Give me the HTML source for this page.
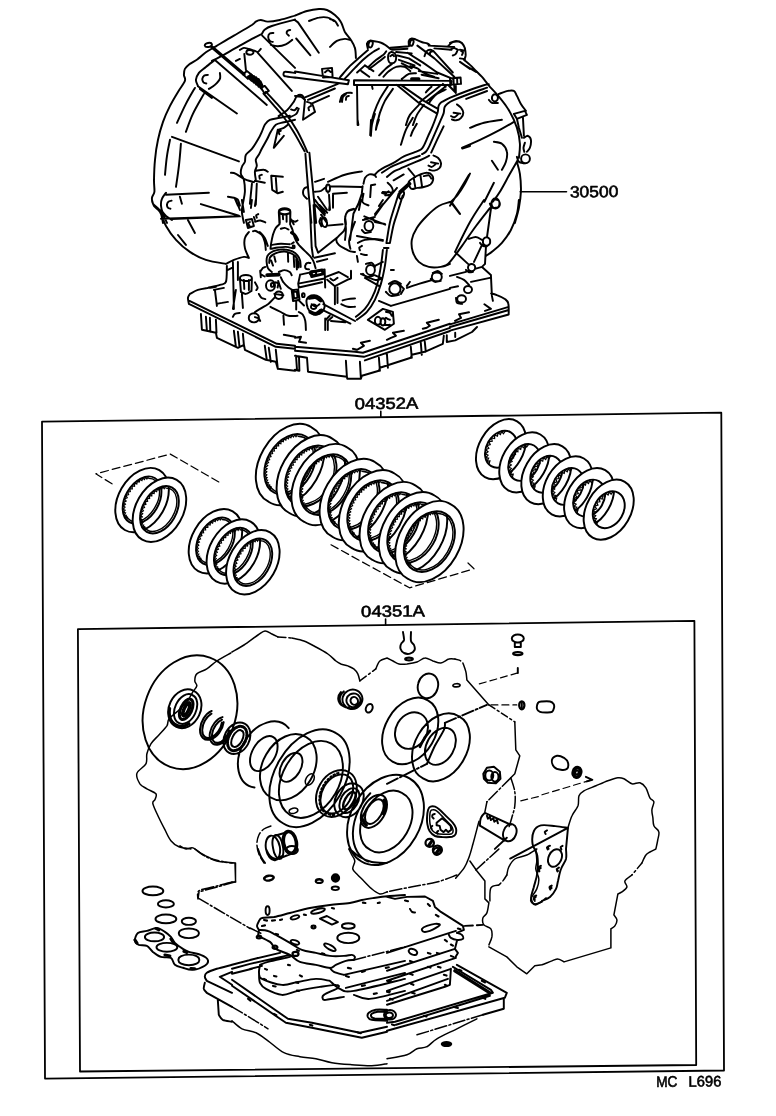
<!DOCTYPE html>
<html lang="en">
<head>
<meta charset="utf-8">
<title>Transaxle assembly and gasket kit diagram</title>
<style>
html,body{margin:0;padding:0;background:#fff;}
body{width:776px;height:1116px;overflow:hidden;font-family:"Liberation Sans",sans-serif;}
svg{display:block;position:absolute;left:0;top:0;will-change:transform;}
svg text{font-family:"Liberation Sans",sans-serif;fill:#000;stroke:#000;stroke-width:0.6px;text-rendering:geometricPrecision;}
</style>
</head>
<body>
<svg width="776" height="1116" viewBox="0 0 776 1116" fill="none" stroke="#000" stroke-linecap="round" stroke-linejoin="round">

<!-- frames -->
<path stroke-width="1.8" d="M42 421.7L721.3 412.7L724 1070.5L45 1078.6Z"/>
<path stroke-width="1.8" d="M77.9 629.2L694.4 620.8L696.2 1065L80 1071.5Z"/>
<!-- label ticks and leader -->
<path stroke-width="1.6" d="M380.8 411.2V417M385.6 619V625M520.2 191.7H566.5"/>
<path stroke-width="1.95" d="M295 15.6C292.5 16.3 284.3 19 279.8 20C275.3 21 271 21.6 267.8 21.6C264.7 21.6 262.8 20 260.8 20C258.8 20 257.3 20.7 255.8 21.6C254.4 22.4 255.5 22.6 251.9 25C248.2 27.3 239.9 32 233.9 35.6C227.9 39.1 220.6 43.5 215.9 46.3C211.2 49.1 208.9 50.2 205.9 52.3C202.9 54.4 200.6 57 197.9 58.9C195.3 60.9 192.1 62.3 189.9 63.9C187.8 65.6 185.9 67.1 184.9 68.9C183.9 70.7 183.9 72.9 183.9 74.9C183.9 76.9 185.9 78.1 184.9 80.9C183.9 83.7 180.4 87.7 178 91.9C175.5 96 172.5 100.9 170 105.9C167.5 110.9 165 116.2 163 121.8C161 127.5 159.3 133.5 158 139.8C156.6 146.1 155.6 153.1 155 159.8C154.3 166.5 154.1 174.4 154 179.8C153.9 185.1 154.7 188.8 154.4 191.8C154 194.7 152.2 195.7 152 197.7C151.8 199.7 151.7 201.6 153 203.7C154.3 205.9 158.3 207.5 160 210.7C161.6 213.9 162.5 220.9 163 222.9M211.9 60.9C213.2 60.3 215.9 59.1 219.9 56.9C223.9 54.8 230.5 50.9 235.9 47.9C241.2 44.9 247.5 41.3 251.9 38.9C256.2 36.6 260.2 34.8 261.8 34M261.8 34C262.3 33.2 263.2 30.9 264.8 29.6C266.5 28.2 266.8 27.6 271.8 26C276.9 24.3 291.1 20.6 295 19.6M262.2 35.6L295 67.9M273.4 33C272.8 33.1 270.7 32.9 269.8 33.6C269 34.2 268.2 35.7 268.2 37C268.2 38.2 269.1 40.1 269.8 40.9C270.6 41.8 272.3 41.8 272.8 41.9M290.2 30C289.7 30.1 288 30.4 287.4 31C286.8 31.6 286.6 32.8 286.8 33.6C287 34.3 288.5 35.2 288.8 35.6M270.8 44.9C272 45.2 275.3 46.4 277.8 46.3C280.3 46.2 283.4 45.4 285.8 44.3C288.2 43.3 291.1 40.7 292.2 39.9M239.9 49.9C240.5 49.6 242.4 48.1 243.9 47.9C245.4 47.8 247 48.4 248.9 48.9C250.7 49.4 253.4 50.4 254.9 50.9C256.3 51.4 256.8 52.3 257.8 51.9C258.8 51.6 260.3 49.4 260.8 48.9M253.5 52.3A3.6 2.4 0 1 1 246.3 52.3A3.6 2.4 0 1 1 253.5 52.3ZM244.3 53.9L245.9 69.9M257.8 52.9L291.8 90.9M235.9 60.9L239.9 58.9M211.9 44.3A3.6 2 -10 1 1 204.8 45.6A3.6 2 -10 1 1 211.9 44.3ZM214.9 59.9L266.8 104.9M242.9 74.3L246.9 70.9L251.9 74.9L247.9 78.9ZM260.8 87.9L264.8 85.9L268.8 90.9L264.8 93.5ZM214.9 59.9C213.4 61.1 208.6 64.7 205.9 66.9C203.3 69.1 200.6 70.7 198.9 72.9C197.3 75.1 196.1 77.7 195.9 79.9C195.8 82.1 197.6 84.9 197.9 85.9M207.9 74.9C207.3 75 205.2 74.8 204.3 75.5C203.4 76.2 202.5 77.8 202.3 78.9C202.2 80 202.9 81.5 203.5 82.3C204.2 83.1 205.8 83.3 206.3 83.5M219.9 72.9C219.9 73.9 220.7 76.9 219.9 78.9C219.1 80.9 216.7 83.2 214.9 84.9C213.1 86.6 209.9 88.2 208.9 88.9M197.9 86.3L236.9 113.5M199.9 88.9L211.9 97.9M194.9 87.9C193.4 90.5 188.9 98 185.9 103.9C182.9 109.7 178.5 119.7 177 122.8M203.9 93.9C202.1 97.2 195.9 107.5 192.9 113.9C189.9 120.2 187.1 128.8 185.9 131.8M172 136.8L238.9 161.4M170 139.8C169.5 142.5 167.8 150 167 155.8C166.1 161.6 165.3 171.6 165 174.8M180.9 143.8C180.6 147.5 179.8 158.6 178.9 165.8C178.1 172.9 176.5 183.3 176 186.8M166 192.7C165.3 193.7 162.8 196.6 162 198.7C161.1 200.9 160.8 203.2 161 205.7C161.1 208.2 162 210.9 163 213.7C164 216.6 166.3 221.4 167 222.9M171.6 200.7C171 200.9 169.1 201.1 168.4 201.7C167.6 202.4 167 203.7 167 204.7C166.9 205.7 167.4 207.1 168 207.7C168.5 208.4 170 208.6 170.4 208.7M166 194.7L208.9 192.7M179.9 196.7L181.9 203.7M200.9 204.1L238.9 215.7M161 218.7L238.9 216.1M289.8 115.8C288.1 116.2 283.1 117.2 279.8 117.8C276.5 118.5 272.3 118.7 269.8 119.8C267.3 121 266.2 122.8 264.8 124.8C263.5 126.8 263 129.3 261.8 131.8C260.7 134.3 259.5 137 257.8 139.8C256.2 142.6 253.9 146.3 251.9 148.8C249.9 151.3 247 152.6 245.9 154.8C244.7 157 245.5 159.8 244.9 161.8C244.2 163.8 242.5 164.8 241.9 166.8C241.2 168.8 240.5 171.6 240.9 173.8C241.2 175.9 243.2 176.8 243.9 179.8C244.5 182.8 245 187.8 244.9 191.8C244.7 195.7 243.4 200.4 242.9 203.7C242.4 207.1 241.7 208.5 241.9 211.7C242 214.9 243.5 221 243.9 222.9M295 119.8C293.1 120.2 287 121.4 283.8 122.2C280.6 123.1 278 123.2 275.8 124.8C273.7 126.4 272.3 129.3 270.8 131.8C269.3 134.3 268.3 137 266.8 139.8C265.3 142.6 263.2 146.3 261.8 148.8C260.5 151.3 259.8 153 258.8 154.8C257.8 156.6 256.2 158 255.8 159.8C255.5 161.6 257 163.8 256.8 165.8C256.7 167.8 255 169.4 254.9 171.8C254.7 174.1 255.7 178.4 255.8 179.8M277.8 129.8C278.8 129.5 282.1 128.7 283.8 127.8C285.5 127 287.1 125.3 287.8 124.8M277.8 129.8L273.8 147.8L283.8 135.8M280.8 130.8C280.5 131 279.1 131.3 278.8 131.8C278.6 132.4 279.3 133.8 279.4 134.2M255.8 170.8C257.2 170.6 261.8 169.6 263.8 169.8C265.8 169.9 267.2 171.4 267.8 171.8M261.8 174.8C261.4 174.9 259.8 175.1 259.4 175.8C259.1 176.4 259.8 178.3 259.8 178.8M254.9 180.8L264.8 182.8M251.9 183.8L249.9 203.7M256.8 183.8L255.8 204.7M230.9 172.8C231.7 172.9 233.7 172.8 235.9 173.8C238 174.8 240.9 177.4 243.9 178.8C246.9 180.2 252.2 181.6 253.9 182.2M227.9 196.7C228.9 196.9 232.2 197.2 233.9 197.7C235.5 198.2 236.9 198.4 237.9 199.7C238.9 201.1 239.5 204.7 239.9 205.7M234.9 198.7L237.9 205.7M271.8 175.8L282.8 176.8M271.2 175.8L272.2 189.8L277.8 193.3L282.8 191.8M275.8 177.8L276.8 191.8M290.4 211.7A5.6 2.4 0 1 1 279.2 211.7A5.6 2.4 0 1 1 290.4 211.7ZM279.4 212.1L279.8 222.9M290.2 212.1L290.2 222.9M258.2 214.1C257.9 214.3 256.5 214.7 256.2 215.3C256 215.9 256.7 217.3 256.8 217.7M266 91.8C267.8 93.8 273.4 99.7 276.9 103.6C280.4 107.5 283.6 110.8 287 115.3C290.4 119.8 294.2 125.7 297 130.4C299.8 135.2 302 140.2 303.7 143.8C305.4 147.4 306.8 150.7 307.4 152.1M263.5 93.5C265.2 95.5 270.2 101.3 273.6 105.2C277 109.1 280.2 112.5 283.6 117C287 121.5 290.9 127.5 293.7 132C296.5 136.5 298.6 140.6 300.4 143.8C302.2 147 303.9 150.1 304.6 151.3M278.6 116.1C280 115.1 284.4 112.6 287 110.3C289.5 107.9 292 104.3 293.7 101.9C295.3 99.5 295.6 97.1 297 96C298.4 94.9 300.8 94.6 302 95.2C303.3 95.7 304.1 98.7 304.6 99.4M288.6 117.8C289.9 117.2 294.5 115.5 296.2 113.9C297.9 112.4 298.3 109.5 298.7 108.6M291.1 109.4C291.7 109.6 293.5 110.5 294.5 110.3C295.5 110 296.6 108.2 297 107.7M295 15.6C297 14.8 303 12.1 307 11C311 9.9 315.6 9.2 319 9C322.3 8.8 324.3 9 327 10C329.6 11 332.6 13 334.9 15C337.3 17 339.3 19.1 340.9 22C342.6 24.8 343.3 29 344.9 32C346.6 35 349.3 37.3 350.9 39.9C352.6 42.6 354.1 44.9 354.9 47.9C355.8 50.9 355.8 56.3 355.9 57.9M309 21C310.6 20.4 315.8 18.1 319 17.6C322.1 17 325.5 17 328 17.6C330.5 18.1 333 20.4 333.9 21M330 19C330.8 19.3 333.6 19.9 334.9 21C336.3 22.1 337.4 24.8 337.9 25.6M296.2 38.5L310.4 55.3M294.4 19.8L298 22.4L318.8 52.7M330 46.9C331.1 45.9 334.4 42.3 336.9 40.9C339.4 39.6 342.8 39.1 344.9 38.9C347.1 38.8 349.1 39.8 349.9 39.9M295 71.5L322 75.9L348.9 80.3L347.9 84.3L295 77.5M322 68.9L332 67.9L332.6 76.9L323 77.5ZM325 72.3C325.5 72 327 70.4 328 70.3C328.9 70.2 330.1 71.6 330.6 71.9M337.9 83.9L305 97.3M334.9 88.5L308 99.9M329 95.9L311 103.9M295 95.9C296 96 299.3 96.2 301 96.9C302.7 97.5 304.3 99.4 305 99.9M305 99.9L303 119.8L315 111.9M307 101.9C307.8 102.2 310.8 102.7 312 103.9C313.1 105 313.5 107.5 314 108.9C314.5 110.2 314.8 111.4 315 111.9M311 105.9C310.6 106.1 308.9 106.7 308.6 107.5C308.2 108.2 308.9 109.8 309 110.3M339.9 101.9C340.3 100.9 340.8 97.4 341.9 95.9C343.1 94.4 345.3 93.4 346.9 92.9C348.6 92.4 351.1 92.9 351.9 92.9M348.9 95.9C348.5 96 347 96.2 346.5 96.9C346 97.5 346 99.4 345.9 99.9M305.4 153.8C305.7 158.1 306.7 171.8 307.4 179.8C308 187.8 308.7 194.5 309.4 201.7C310 208.9 311 219.4 311.4 222.9M309.4 152.8C309.8 157.3 311.2 171.6 312 179.8C312.8 187.9 313.5 194.5 314.2 201.7C314.9 208.9 315.8 219.4 316.2 222.9M374.9 113.9C374.4 115.7 372.6 121.2 371.9 124.8C371.2 128.5 371.1 134 370.9 135.8M378.9 119.8C378.6 120.8 377.4 124.2 376.9 125.8C376.4 127.5 376.1 129.2 375.9 129.8M412.8 117.8C411.7 119.8 407.9 125.3 405.9 129.8C403.9 134.3 401.7 142.3 400.9 144.8M416.8 123.8C416.2 125 413.8 128.8 412.8 130.8C411.8 132.8 411.2 135 410.8 135.8M328 181.8C330.8 180.6 339.3 176.5 344.9 174.8C350.6 173 359.1 171.9 361.9 171.4M330 186.2L361.9 187M327 184.8C326.8 185.4 325.8 187.4 326 188.8C326.1 190.1 327.6 192.1 328 192.7M333 193.7L346.9 192.7M315 181.8L324 178.8M330 188.2A2 3.6 0 1 1 326 188.2A2 3.6 0 1 1 330 188.2ZM329 194.7L330 209.7M333 194.7L333 207.7M315 199.7L325 213.7M318 196.7L327 209.7M308 186.8C307.3 187.1 304.8 187.4 304 188.8C303.2 190.1 302.9 193.1 303.4 194.7C303.9 196.4 306.4 198.1 307 198.7M315 191.8C316 191.6 319.3 191.4 321 190.8C322.6 190.1 324.3 188.3 325 187.8M321 214.7L327 222.9M295.3 73C293.6 72.8 287.2 71.6 285.2 71.7C283.3 71.8 283.6 73 283.6 73.7C283.5 74.5 282.9 75.6 284.9 76.2C286.9 76.9 293.6 77.5 295.3 77.7M354 80.3L451.5 80.9L451.1 84.9L354 84.9ZM357 84.9L357.6 125.1M340 77.3C341.7 75.4 346.7 69.3 350 65.9C353.3 62.6 357 59.6 360 57C363 54.3 366.6 51.1 368 50M345 78.5C346.7 76.8 351.8 71.2 355 67.9C358.1 64.7 361 61.6 364 59C367 56.3 370.5 53.7 373 52C375.5 50.2 378 49.1 378.9 48.6M396.9 84.9L418.9 102.9L435.9 112.9M400.9 84.9L423.9 100.9L437.9 108.9M439.9 85.9L419.9 101.9M444.9 86.9L425.9 101.9M419.9 103.9C418.2 105.7 412.2 111.4 409.9 114.9C407.6 118.4 406.6 123.4 405.9 125.1M423.9 104.9C422.7 106.6 418.7 111.5 416.9 114.9C415.1 118.2 413.6 123.4 412.9 125.1M387.9 85.9C386.6 88.1 382.3 94.4 379.9 98.9C377.6 103.4 375.5 108.5 374 112.9C372.5 117.2 371.5 123 371 125.1M392.9 88.9C391.6 90.9 387.1 96.9 384.9 100.9C382.8 104.9 381.3 108.9 379.9 112.9C378.6 116.9 377.5 123 377 125.1M447.9 84.9L455.8 92.9M455.8 84.9L455.8 92.9M346 93.9C345.5 94.4 343.7 95.6 343 96.9C342.3 98.2 342.2 101.1 342 101.9M372 85.9L372.6 88.9M367.8 48.4C367.6 47.6 366.7 44.8 367 43.5C367.4 42.2 368.8 41 369.9 40.6C370.9 40.2 372.8 41 373.4 41.1M372.5 44.7A2 2.8 15 1 1 368.7 43.7A2 2.8 15 1 1 372.5 44.7ZM373.4 41.1C374.6 41.3 378.4 41.7 380.5 42.5C382.6 43.2 384.5 44.5 386.2 45.6C387.8 46.7 389.7 48.5 390.4 49.1M357.1 72.5L364.9 65.4M361.4 71.1L369.2 76.8M364.9 65.4L373.4 71.1M368.5 66.9C369.8 65.7 373.8 61.8 376.3 59.8C378.7 57.8 381.7 56.2 383.4 54.8C385 53.4 385.7 51.9 386.2 51.3M369.2 69C370.6 67.9 375.1 64.6 377.7 62.6C380.3 60.6 383.6 57.9 384.8 56.9M388.3 54.8C388.7 53.2 390.1 52.2 391.1 52C392.2 51.7 393.9 52.6 394.7 53.4C395.5 54.2 396 55.6 396.1 56.9C396.2 58.2 396 60.1 395.4 61.2C394.8 62.2 393.6 63.2 392.6 63.3C391.5 63.4 389.7 63.3 389 61.9C388.3 60.5 388 56.5 388.3 54.8ZM390.4 56.2C390.8 56 392 54.8 392.6 54.8C393.2 54.8 393.7 56 394 56.2M379.1 75.4C380.3 74.2 384.1 70.2 386.2 68.3C388.3 66.4 390.9 64.7 391.9 64M383.4 76.8C384.3 75.8 386.9 72.8 389 71.1C391.1 69.5 393.5 67.6 396.1 66.9C398.7 66.1 402.3 66.1 404.6 66.9C407 67.6 409.3 70.4 410.3 71.1M401.8 63.3L411.7 68.3M390.4 47.7L408.9 46.3M391.9 49.8L407.4 48.7M396.1 52L411.7 53.4M408.9 45.6C408.9 44.8 408.4 41.8 408.9 40.6C409.3 39.5 410.6 38.7 411.7 38.5C412.8 38.3 414.7 39.1 415.2 39.2M413.3 43.2A1.7 2.6 15 1 1 410.1 42.3A1.7 2.6 15 1 1 413.3 43.2ZM415.2 39.2C416.3 39.7 419.6 41.3 421.6 42C423.6 42.8 425.9 42.9 427.3 43.5C428.7 44.1 429.7 45.2 430.1 45.6M424.5 56.2C424.8 55.4 425.6 52.3 426.6 51.3C427.5 50.2 428.9 49.8 430.1 49.8C431.3 49.8 433.1 51 433.7 51.3M432.3 51.3C431.9 51.5 430.5 51.8 430.1 52.4C429.8 53 430.1 54.4 430.1 54.8M407.4 52.7L423 62.6L437.2 72.5L452.8 78.9M417.4 45.6L434.4 58.4L454.2 76.8M433.7 51.3L452.8 72.5M428.7 45.6L454.2 47M434.4 48.4L451.4 49.8M397.5 55.5L408.9 58.4L420.2 65.4M398.9 59.8L414.5 65.4M410.3 66.1C411.5 66.5 415.2 67.2 417.4 68.3C419.5 69.3 420.2 71.1 423 72.5C425.9 73.9 432.5 76.1 434.4 76.8M418.8 71.1L437.2 73.9M421.6 74.7L438.6 78.2M401.8 78.9C403 78.1 406.5 74.9 408.9 73.9C411.2 73 414.8 73.4 416 73.2M448.6 45.6C449.3 45 451.2 42.7 452.8 42C454.5 41.4 456.8 41.3 458.5 41.6C460.1 42 461.6 43 462.7 44.2C463.8 45.3 464.6 47.7 465 48.4M459.9 49.8L465 50.6M452.8 55.5C453.3 55.3 454.9 54.8 455.6 54.1C456.4 53.4 456.8 51.7 457.1 51.3M459.9 58.4L465 59.1M450 78.2L460.6 77.5L461 83.9L450.3 84.6ZM453.5 78.2L453.7 84.3M457.1 77.9L457.3 84.1M454.2 84.6L454.5 91M431.5 86.7C431.1 87.1 429.7 88.3 428.7 89.3C427.8 90.2 426.3 91.9 425.9 92.4M445.7 89.5C444.3 90.2 439.6 92.1 437.2 93.8C434.9 95.4 433 97.8 431.5 99.5C430.1 101.1 429.2 103 428.7 103.7M442.9 83.9L445.7 86.7M448.6 85.3L454.2 91M450 42.9C451 42.6 454 40.9 456 40.9C458 40.9 460.5 41.6 462 42.9C463.5 44.3 464.4 46.8 465 48.9C465.6 51.1 465.7 54.1 465.6 55.9C465.4 57.8 464.2 59.3 464 59.9M464 59.9C465 60.8 468 63.1 470 64.9C472 66.7 474 68.9 476 70.9C478 72.9 480.3 75.1 482 76.9C483.6 78.7 484.6 80.2 486 81.9C487.3 83.6 489.3 86.1 489.9 86.9M450 49.9C450.7 49.6 452.7 47.9 454 47.9C455.3 47.9 457.3 49.6 458 49.9M461 50.9C461.3 51.2 462.8 51.7 463 52.3C463.1 53 462.2 54.5 462 54.9M460 61.9L470 68.9M466 65.9L476 71.9M497.9 97.9A3 3.6 0 1 1 491.9 97.9A3 3.6 0 1 1 497.9 97.9ZM488.9 99.9C489.4 100.4 490.4 102.4 491.9 102.9C493.4 103.4 496.9 102.9 497.9 102.9M498.9 93.9C500.4 93.4 505.4 91.4 507.9 90.9C510.4 90.4 512.4 90 513.9 90.9C515.4 91.7 515.7 93.7 516.9 95.9C518.1 98 519.4 101.4 520.9 103.9C522.4 106.4 525.1 109.7 525.9 110.9M513.9 113.9L524.9 110.9L526.9 114.9L516.9 118.8ZM516.9 118.8L518.9 127.8L521.9 137.8M522.9 116.8L523.9 135.8M489.9 86.9C491.6 88.7 496.6 93.7 499.9 97.9C503.3 102 507.1 106.9 509.9 111.9C512.8 116.8 515.2 122.5 516.9 127.8C518.6 133.2 519.6 138.8 519.9 143.8C520.2 148.8 519.1 155.5 518.9 157.8M523.9 137.8C524.6 137.5 526.7 135.5 527.9 135.8C529.1 136.2 530.6 137.8 530.9 139.8C531.2 141.8 530.6 145.8 529.9 147.8C529.2 149.8 527.4 151.1 526.9 151.8M524.9 142.8C524.7 143.6 523.6 146.3 523.5 147.8C523.4 149.3 524.2 151.1 524.3 151.8M529.9 158.8A4.4 4.4 0 1 1 521.1 158.8A4.4 4.4 0 1 1 529.9 158.8ZM516.9 156.8C517.2 157.6 517.7 160.7 518.9 161.8C520.1 162.9 523.1 163.1 523.9 163.4M516.9 161.8C517.4 163.8 519.2 168.8 519.9 173.8C520.6 178.8 521.1 186.1 520.9 191.8C520.7 197.4 519.9 202.5 518.9 207.7C517.9 212.9 515.6 220.4 514.9 222.9M470 127.8C472.3 127 478.6 124.2 484 122.8C489.3 121.5 498.9 120.3 501.9 119.8M462 147.8C465 146.5 473.6 142.8 480 139.8C486.3 136.8 494.3 132.8 499.9 129.8C505.6 126.8 511.6 123.2 513.9 121.8M493.9 141.8C495.3 142.1 499.8 142.1 501.9 143.8C504.1 145.5 506.3 148.8 506.9 151.8C507.6 154.8 506.8 158.8 505.9 161.8C505.1 164.8 502.6 168.4 501.9 169.8M491.9 160.8L497.9 169.8M517.9 159.8C516.6 162.1 512.9 168.4 509.9 173.8C506.9 179.1 502.8 187.1 499.9 191.8C497.1 196.4 494.1 200.1 492.9 201.7M469 174.8L460 189.8L450 205.7M493.9 182.8L484.4 201.7M452 202.7L460 213.7M499.5 203.3A4 5 0 1 1 491.5 203.3A4 5 0 1 1 499.5 203.3ZM489.9 203.7C490.3 204.4 490.8 207.1 491.9 207.7C493.1 208.4 496.1 207.7 496.9 207.7M152 200C152.3 201 152.7 204 154 206C155.3 208 158 208.7 160 212C162 215.3 163.3 221.3 166 226C168.6 230.6 172 235.6 176 239.9C179.9 244.3 184.9 248.6 189.9 251.9C194.9 255.3 199.9 257.9 205.9 259.9C211.9 261.9 222.6 263.3 225.9 263.9M161 210C161.8 211 164.1 214.3 166 216C167.8 217.6 171 219.3 172 220M172 219L239.9 216.4M187.9 220L194.9 233M178 235L185.9 244.9M225.9 263.9C227.2 263.3 230.9 261.1 233.9 259.9C236.9 258.8 241.4 257.3 243.9 256.9C246.4 256.6 248 257.8 248.9 257.9M248.9 257.9C248.2 256.3 245.5 251.3 244.9 247.9C244.2 244.6 244.2 240.6 244.9 238C245.5 235.3 248.2 233 248.9 232M245.9 220L251.9 219L253.9 226L247.9 228ZM249.9 222C249.6 222.2 248.3 223 248.3 223.6C248.2 224.2 249.3 225.2 249.5 225.6M253.9 217L254.9 220M235.9 200L239.9 210M241.9 200L243.9 212M251.9 200L250.9 208M255.8 200L254.9 206M283.8 334.8L295 336.8M189.9 293.9C189.6 294.5 188.1 296.2 187.9 297.9C187.8 299.5 188.8 302.9 188.9 303.9M188.9 303.9L275.8 346.8L295 348.8M189.9 293.9C191.3 293.2 194.9 290.9 197.9 289.9C200.9 288.9 204.9 288.4 207.9 287.9C210.9 287.4 214.6 287.1 215.9 286.9M189.5 300.9L276.8 343.8L295 345.8M207.9 287.9C209.9 287.4 216.9 285.9 219.9 284.9C222.9 283.9 224.7 285.1 225.9 281.9C227.1 278.7 226.7 268.6 226.9 265.9M213.9 289.9L223.9 287.9M232.9 261.9L233.9 308.9M237.9 261.9L237.9 279.9M227.9 269.9L231.9 267.9M251.9 277.9A6 3 0 1 1 239.9 277.9A6 3 0 1 1 251.9 277.9ZM239.9 278.3L240.9 291.9M251.9 278.3L251.5 290.9M243.9 279.9L244.3 288.9M248.9 279.9L248.9 289.9M240.9 291.9C241.7 292.2 244.1 294 245.9 293.9C247.6 293.7 250.5 291.4 251.5 290.9M214.9 289.9L216.9 305.9M216.9 303.9C217.7 303.7 220.1 303.2 221.9 302.9C223.7 302.5 226.9 302 227.9 301.9M235.9 289.9L232.9 308.9M241.9 293.9L242.9 307.9M239.9 312.9C239 313 236 313.2 234.9 313.9C233.7 314.5 233.2 316.3 232.9 316.8M258.8 317.8A5 4 0 1 1 248.9 317.8A5 4 0 1 1 258.8 317.8ZM200.9 313.9L201.9 329.8L215.9 332.8L216.9 337.8L235.9 346.8L237.9 347.8L243.9 344.8L244.9 349.8L265.8 359.8L275.8 361.8L277.8 368.8L295 370.8M205.9 316.8L206.9 330.8M209.9 317.8L210.3 331.8M215.9 319.8L216.5 332.8M233.9 330.8L235.9 346.8M237.9 331.8L239.5 346.8M242.9 333.8L243.9 344.8M264.8 345.8L266.8 359.8M268.8 347.8L270.8 361.8M275.8 349.8L277.8 368.8M360.9 200L358.9 210M386.9 249.9C386.5 252.6 385.9 260.3 384.9 265.9C383.9 271.6 382.6 278.2 380.9 283.9C379.2 289.6 377.2 295.2 374.9 299.9C372.6 304.5 369.9 308.5 366.9 311.9C363.9 315.2 358.6 318.5 356.9 319.8M382.9 249.9C382.6 252.6 381.8 260.3 380.9 265.9C380 271.6 378.8 278.6 377.3 283.9C375.8 289.2 374 293.7 371.9 297.9C369.8 302 367.6 305.7 364.9 308.9C362.2 312 357.4 315.5 355.9 316.8M383.9 247.9L388.5 247.9M390.9 269.9L393.9 269.9M373.3 226A4.4 5 0 1 1 364.5 226A4.4 5 0 1 1 373.3 226ZM364.9 219C366.1 218.8 370.2 217.5 371.9 218C373.6 218.5 374.4 221.3 374.9 222M362.9 220L374.9 217M374.9 222L384.9 224M361.9 230C362.4 230.5 363.4 232.6 364.9 233C366.4 233.3 369.9 232.1 370.9 232M374.9 214L382.9 204M382.9 200L378.9 206M382.9 239.9C381.6 239.8 377.9 238.9 374.9 238.9C371.9 238.9 367.7 239.3 364.9 239.9C362.1 240.6 359.1 242.4 357.9 242.9M361.9 245.9C361.5 246.2 359.6 246.8 359.3 247.5C359 248.3 359.8 249.9 359.9 250.3M356.9 236L382.9 240.9M356.9 255.9L357.9 261.9M360.9 253.9C361.4 254.1 362.9 254.6 363.9 254.7C364.9 254.9 366.4 254.9 366.9 254.9M374.9 269.9A4.4 5 0 1 1 366.1 269.9A4.4 5 0 1 1 374.9 269.9ZM365.9 263.9C366.9 263.8 370.4 262.4 371.9 262.9C373.4 263.4 374.4 266.2 374.9 266.9M362.9 273.9C363.6 274.4 365.2 276.6 366.9 276.9C368.6 277.2 371.9 276.1 372.9 275.9M374.9 265.9L382.9 261.9M373.9 274.9L380.9 277.9M364.9 277.9L378.9 285.9M360.9 273.9C363.2 274.9 371.6 279.1 374.9 279.9C378.2 280.7 379.9 279.1 380.9 278.9M450 202C448.1 202.7 442.7 203.7 438.8 206C435 208.3 430.5 212.3 426.8 216C423.2 219.6 419.3 224 416.8 228C414.3 232 412.5 236 411.8 239.9C411.2 243.9 411.7 248.3 412.8 251.9C414 255.6 416.2 259.4 418.8 261.9C421.5 264.4 425.2 266.1 428.8 266.9C432.5 267.7 437.3 267.4 440.8 266.9C444.3 266.4 448.5 264.4 450 263.9M441.8 276.9A5 4.4 0 1 1 431.8 276.9A5 4.4 0 1 1 441.8 276.9ZM432.8 272.9C433.7 272.6 436.3 270.7 437.8 270.9C439.3 271.1 441.1 273.4 441.8 273.9M430.8 278.9C431.5 279.4 433.2 281.6 434.8 281.9C436.5 282.2 439.8 281.1 440.8 280.9M400.5 288.9A5.6 5.6 0 1 1 389.3 288.9A5.6 5.6 0 1 1 400.5 288.9ZM388.9 283.9C389.9 283.4 392.9 280.9 394.9 280.9C396.9 280.9 399.9 283.4 400.9 283.9M385.9 291.9C386.7 292.5 388.7 295.4 390.9 295.9C393 296.4 397.5 295 398.9 294.9M399.9 284.9L403.9 288.9L400.9 293.9M406.9 285.9C407.1 285.6 408 284.6 408.5 283.9C409 283.2 409.6 282.2 409.9 281.9M406.9 287.9C408.9 287.2 414.5 285.2 418.8 283.9C423.2 282.6 430.5 280.6 432.8 279.9M390.9 305.9L450 288.9M378.9 300.9L390.9 305.9M367.9 319.8L382.9 308.9L392.9 311.9L393.9 323.8L384.9 329.8ZM380.9 320.8A3 4 0 1 1 374.9 320.8A3 4 0 1 1 380.9 320.8ZM385.3 321.8A2.4 3.6 0 1 1 380.5 321.8A2.4 3.6 0 1 1 385.3 321.8ZM385.9 311.9C386.5 312 388.9 312.2 389.9 312.9C390.9 313.5 391.5 315.4 391.9 315.8M385.9 317.8C386.2 318 387.2 318.7 387.9 319C388.5 319.4 389.5 319.7 389.9 319.8M384.9 324.8C385.3 324.9 386.4 325 387.3 325C388.1 325 389.4 324.9 389.9 324.8M295 337.8L301 336.8L299 341.8L306 342.8M369.9 340.8L360.9 342.8L363.9 345.8L356.9 349.8L352.9 348.8M403.9 330.8L392.9 332.8L395.9 335.8L390.9 337.8L386.9 339.8M438.8 319.8L426.8 322.8L429.8 325.8L426.8 327.8L422.8 328.8M295 346.8L354.9 351.8L362.9 352.8L450 323.8M295 350.8L354.9 355.8L363.9 356.8L450 327.8M364.9 360.4L450 331M295 355.8L307 357.8L308 371.8L346.9 376.8L347.3 378.8L360.9 378.8L361.9 375.8L378.9 370.8L379.9 367.8L410.8 357.8L411.8 354.8L424.8 351.8L442.8 343.8L443.8 335.8M345.9 360.8L346.9 376.8M359.9 361.8L360.9 378.8M378.9 357.8L379.9 370.8M386.9 353.8L387.9 367.8M410.8 346.8L411.8 357.8M420.8 342.8L421.8 354.8M424.8 341.8L425.8 351.8M296 355.8L297 369.8M299 356.8L299.4 370.8M295 369.8L299 370.8M290.4 211.4A5.8 3.1 0 1 1 278.8 211.4A5.8 3.1 0 1 1 290.4 211.4ZM278.8 212.1L279.5 224.3M290.4 212.1L290.1 224.3M282.7 214L283.1 219.2M286.6 214L286.6 221.8M279.5 224.3C278.8 225 276.7 226.5 275.6 228.2C274.5 229.9 273.8 232.1 273 234.6C272.3 237.2 271.5 241.3 271.1 243.7C270.7 246 270.6 248 270.5 248.8M290.1 224.3C290.4 225.2 291.8 227.8 292.4 229.5C293 231.2 293 232.7 293.7 234.6C294.3 236.6 295.4 239.4 296.2 241.1C297.1 242.8 298.4 244.3 298.8 244.9M280.8 228.8C281.4 228.7 283.4 227.8 284.6 227.9C285.9 228 287.9 229.2 288.5 229.5M292.4 220.5C292.8 220.7 294.1 221.8 294.9 221.8C295.8 221.8 297.1 220.7 297.5 220.5M291.1 219.2L293.7 224.3M271.1 248.8C272.3 248.6 275.7 247.8 278.2 247.5C280.7 247.2 283.6 246.8 285.9 246.9C288.3 247 291.3 248 292.4 248.2M271.8 244.9C273.3 244.7 277.8 243.8 280.8 243.7C283.8 243.6 288.3 244.2 289.8 244.3M271.8 272C271.1 271.4 268.7 269.9 267.9 268.1C267 266.4 266.7 263.6 266.6 261.7C266.5 259.8 266.6 258 267.2 256.5C267.9 255 268.9 253.8 270.5 252.7C272.1 251.6 274.5 250.6 276.9 250.1C279.3 249.6 282.1 249.2 284.6 249.5C287.2 249.7 290.2 250.4 292.4 251.4C294.5 252.4 296.2 253.8 297.5 255.3C298.8 256.8 299.6 258.5 300.1 260.4C300.6 262.3 300.6 265.8 300.7 266.9M269.2 263C269.3 262.1 269.2 259.2 269.8 257.8C270.5 256.4 271.6 255.5 273 254.6C274.4 253.7 276.3 252.9 278.2 252.4C280.1 251.9 282.5 251.5 284.6 251.6C286.8 251.8 289.3 252.5 291.1 253.3C292.9 254.1 294.4 255.2 295.6 256.5C296.8 257.9 297.7 259.9 298.2 261.7C298.7 263.5 298.5 266.5 298.6 267.5M274.3 256.5L275.6 261.7M287.9 253.3L288.2 261.7M293.7 256.5L294.3 266.9M271.1 260.4L273 265.6M296.2 259.1L296.9 269.4M298.8 244.9C299.9 246 303.3 249.5 305.3 251.4C307.2 253.3 309 254.8 310.4 256.5C311.8 258.3 312.8 259.8 313.6 261.7C314.5 263.6 315.2 267.1 315.6 268.1M291.7 243.7L293.7 242.4M294.7 246.9A1 1.3 0 1 1 292.6 246.9A1 1.3 0 1 1 294.7 246.9ZM310.4 263C309.9 263 308 262.6 307.2 263C306.3 263.4 305.5 264.6 305.3 265.6C305 266.5 305.3 268.1 305.9 268.8C306.5 269.4 308.6 269.3 309.1 269.4M316.2 273.3A3.2 2.1 0 1 1 309.8 273.3A3.2 2.1 0 1 1 316.2 273.3ZM309.8 205L311.7 247.5L313 256.5M313.6 205L315.6 246.2L318.1 252.7M318.1 252.7L337.5 237.2M314.3 257.8L334.9 253.3M316.9 261.7L327.2 259.1M326.9 221.9A2.6 4.4 -10 1 1 321.8 222.8A2.6 4.4 -10 1 1 326.9 221.9ZM320.7 217.9C320.5 218.5 319.3 220.4 319.4 221.8C319.5 223.1 321 225.5 321.4 226.3M327.2 225.6L342.6 224.3M315.6 205L324.6 215.3M319.4 205L327.2 212.7M329.7 205L329.1 210.2M355 208.9C353.8 209.3 349.4 210.2 347.8 211.4C346.2 212.7 345.5 214.5 345.2 216.6C344.9 218.7 346.1 222 345.9 224.3C345.6 226.7 345.1 228.8 343.9 230.8C342.7 232.7 340.1 234.4 338.8 235.9C337.5 237.4 336.2 238.3 336.2 239.8C336.2 241.3 337.3 243.4 338.8 244.9C340.3 246.5 343.3 247.7 345.2 248.8C347.1 249.9 348.7 250.9 350.4 251.4C352 251.9 354.2 251.9 355 252M355 221.8C354.4 223.3 352.6 227.6 351.6 230.8C350.7 234 349.3 238.1 349.1 241.1C348.9 244.1 350.1 247.5 350.4 248.8M300.1 274.6L324.6 269.4M300.1 274.6L298.2 283.6L324.6 278.5M298.2 283.6L298.8 287.5L322 282.3M324.6 269.4L325.2 287.5M325.2 277.2L338.8 272L347.8 277.2M334.9 286.2L347.8 279.7L351 278.5L351 270.7M334.9 286.2L334.9 304.2M337.5 287.5L337.5 302.9M330.4 278.5C330.9 278.8 332.4 280.5 333.6 280.4C334.8 280.3 336.8 278.2 337.5 277.8M327.2 279.7L334.9 286.2M342.6 300.4C343.5 300.1 345.7 299.4 347.8 299.1C349.8 298.8 353.8 298.5 355 298.4M341.3 304.2C342.4 304.7 345.5 306.4 347.8 306.8C350.1 307.2 353.8 306.8 355 306.8M275 285.5A4.5 5.2 0 1 1 266 285.5A4.5 5.2 0 1 1 275 285.5ZM273.9 284.9A1.5 1.9 0 1 1 270.9 284.9A1.5 1.9 0 1 1 273.9 284.9ZM275.6 282.3C276 282.5 277.9 282.7 278.2 283.6C278.5 284.5 277.7 286.8 277.6 287.5M282.7 295.2A3.9 3.2 0 1 1 275 295.2A3.9 3.2 0 1 1 282.7 295.2ZM274.3 293.9L283.4 295.2M278.8 272C279.8 271.7 282.8 270.1 284.6 270.1C286.5 270.1 288.6 271.2 289.8 272C291 272.9 291.4 274.7 291.7 275.2M280.8 277.2C281.2 278 282.1 280.6 283.4 282.3C284.6 284 286.8 286.1 288.5 287.5C290.2 288.9 292.8 290.2 293.7 290.7M278.2 281L280.8 288.8M291.7 290.1L298.2 289.4L299.5 299.7L293 301ZM293.4 292L296.9 291.6L297.5 297.8L294 298.4ZM304.6 295.2A1.3 1.9 0 1 1 302 295.2A1.3 1.9 0 1 1 304.6 295.2ZM296.2 301L296.2 309.4M298.8 300.4L304 305.5M306.5 300.4C306.8 298.4 307.8 297.4 309.1 296.5C310.4 295.6 312.6 295.1 314.3 295.2C316 295.3 317.9 296.1 319.4 297.1C320.9 298.2 322.4 300 323.3 301.6C324.2 303.3 324.8 305.1 324.6 306.8C324.4 308.5 323.3 310.7 322 312C320.7 313.2 318.6 314.3 316.9 314.5C315.1 314.8 313.2 314.3 311.7 313.2C310.2 312.2 308.7 310.2 307.8 308.1C307 305.9 306.3 302.3 306.5 300.4ZM311.7 304.2C312.3 304.7 314.3 306.8 315.6 306.8C316.9 306.8 318.8 304.7 319.4 304.2M316.2 306.8A2.6 1.9 0 1 1 311.1 306.8A2.6 1.9 0 1 1 316.2 306.8ZM323.3 304.2L355 321M321.4 309.4L350.4 323.6M325.2 318.4L325.2 330M329.7 315.8L325.9 319.7M332.3 317.1L327.8 321L327.8 330M255 312C256.1 311.3 259.3 309.4 261.4 308.1C263.6 306.8 265.7 305.9 267.9 304.2C270 302.5 273.3 298.9 274.3 297.8M270.5 306.8C272.2 307.7 277.8 310.5 280.8 312C283.8 313.5 285.7 315.2 288.5 315.8C291.3 316.5 296 315.8 297.5 315.8M283.4 315.8L284 324.8M298.8 312C299.5 312.4 301.6 313 302.7 314.5C303.8 316 304.7 318.4 305.3 321C305.8 323.6 305.8 328.5 305.9 330M331 321L345.2 322.3M260.2 270.7L260.8 277.2M260.2 272C260.6 271.4 261.9 269 262.7 268.1C263.6 267.3 264.9 267.1 265.3 266.9M261.4 274.6L264.7 276.5M255 282.3C255.4 283.2 257.4 286.2 257.6 287.5C257.8 288.8 256.5 289.6 256.3 290.1M258.9 293.9C259.3 294.6 260.4 296.9 261.4 297.8C262.5 298.6 264.7 298.9 265.3 299.1M255 221.8C255.9 221.5 258.4 220.4 260.2 220.5C261.9 220.6 264.5 222.1 265.3 222.4M255 317.1L258.9 318.4L260.2 321M253 231.2C253.5 231.2 254.4 230.4 255.9 231C257.4 231.6 260.3 233.2 261.8 235C263.3 236.8 264.1 239.4 264.8 241.9C265.5 244.4 265.6 248.6 265.8 249.9M259.8 232C260.6 233 263.5 235.7 264.8 238C266.1 240.3 267.3 244.6 267.8 245.9M518.9 200C518.6 202.3 518.2 209 516.9 214C515.6 219 513.4 225.1 510.9 230C508.4 234.8 504.9 239.4 501.9 242.9C498.9 246.4 495.6 248.8 492.9 250.9C490.3 253.1 487.1 255.1 486 255.9M499.9 204A4.4 4.4 0 1 1 491.1 204A4.4 4.4 0 1 1 499.9 204ZM452 203L460 214M489.9 208C487.6 211 480.6 219.6 476 226C471.3 232.3 466.3 239.9 462 245.9C457.7 251.9 452.8 258.6 450 261.9C447.2 265.2 445.8 265.2 445 265.9M484 200C481.6 203.7 474.8 213.3 470 222C465.1 230.6 457.5 246.9 455 251.9M490.9 209L487 237M490.1 241.5A3.6 3.6 0 1 1 483 241.5A3.6 3.6 0 1 1 490.1 241.5ZM480 242.9C480.5 243.4 481.8 245.4 483 245.9C484.1 246.5 486.3 246.3 487 246.3M469 238.9C470.1 238.6 473.8 236.8 476 237C478.1 237.1 481 239.4 482 239.9M482 244.9L474 261.9M455 251.9L468 263.9M486 245.9L485 263.9M475.2 267.5A3.6 3.6 0 1 1 468 267.5A3.6 3.6 0 1 1 475.2 267.5ZM466 269.9C466.5 270.3 467.8 272 469 272.3C470.1 272.6 472.3 272 473 271.9M485 263.9L482 266.9L475 268.9M482 266.9L490.9 274.9L491.9 295.9L492.9 300.9M450 275.9L466 271.9M471 281.9L489.9 277.9M457 276.9C458.2 277.4 462 278.6 464 279.9C466 281.2 468.1 284.1 469 284.9M472 289.5A4 3.6 0 1 1 464 289.5A4 3.6 0 1 1 472 289.5ZM466 298.9A4.4 3.6 0 1 1 457.2 298.9A4.4 3.6 0 1 1 466 298.9ZM456 297.9C456.2 298.7 456 301.9 457 302.9C458 303.9 461.2 303.7 462 303.9M450 287.9L458 286.3M491.1 293.5C492.1 293.7 494.6 294.1 496.9 295.1C499.3 296 503.4 297.9 505.3 299.3C507.2 300.7 507.8 301.1 508.3 303.5C508.9 305.9 508.7 312 508.7 313.7M508.7 306.9L450 324.4M507.9 310.3L450 327M508.7 314.5L450 330.6M446.8 335.2L446.8 342L455.2 340.4L472 332L477 327M484.4 304.3L490.9 308.9L485 310.9M469 312.3L459 314.3L461 317.8L455 320.8M455.2 332.8L455.2 337M466.2 98.9L487.1 91M457 104.4C457.7 105 460.1 106.4 461.1 107.8C462.2 109.2 463.3 111.1 463.3 112.8C463.3 114.5 462.3 116.6 461.1 117.8C459.9 119.1 457.7 120.1 456.1 120.3C454.6 120.6 452.6 119.6 451.9 119.5M451.1 116.1C451.7 116.3 453.3 117.6 454.4 117.3C455.6 117 457.2 114.9 457.8 114.5M453.6 112.8L460.3 113.6M433.5 155.5C434.3 155.9 436.9 156.8 438.2 158C439.5 159.3 440.8 161.4 441 163.1C441.2 164.7 440.5 166.8 439.4 168.1C438.3 169.3 436 170.3 434.3 170.6C432.7 170.9 430.2 169.9 429.3 169.8M428.5 165.6C429 165.8 430.7 167.1 431.8 166.9C433 166.7 434.9 164.7 435.5 164.2M431 162.2L438.2 163.6M488.8 84.3C488 84.5 487.4 84.1 483.8 85.2C480.2 86.3 472.6 88.9 467 91C461.4 93.1 454.2 96 450.3 97.7C446.4 99.4 445.2 100.2 443.6 101.1C442 102 441.4 102.2 440.5 103C439.6 103.8 438.9 104.8 438.5 106.2C438.1 107.6 438.3 109.4 437.9 111.3C437.5 113.2 436.8 114.9 435.9 117.5C435 120.1 433.6 123.7 432.3 126.8C431 129.9 429.5 133 428.1 136.1C426.7 139.2 425.2 143.2 424 145.4C422.8 147.6 422.6 148.3 420.9 149.5C419.2 150.7 416.6 151.4 413.7 152.6C410.8 153.8 406.5 155.1 403.4 156.7C400.3 158.2 398.3 160.2 395.3 161.9C392.3 163.6 388 165.4 385.2 166.9C382.4 168.4 380.3 169.7 378.5 171.1C376.7 172.5 375 174.6 374.3 175.3M487.1 87.7C484.3 88.7 476 91.4 470.4 93.5C464.8 95.6 457.4 98.5 453.6 100.2C449.8 101.9 449.2 102.4 447.7 103.6C446.2 104.8 445.3 105.6 444.6 107.2C443.9 108.8 444.3 111.2 443.6 113.4C442.9 115.6 441.6 118 440.5 120.6C439.4 123.2 438.1 126.2 436.9 128.9C435.7 131.7 434.6 134.2 433.3 137.1C432 140 430.4 144 429.2 146.4C428 148.8 427.3 150.2 426.1 151.5C424.9 152.8 422.7 153.7 422 154.1M419.9 155.7C418.3 156.2 413.9 157.6 410.6 158.8C407.3 160 403.7 161.5 400.3 162.9C396.9 164.3 393.1 165.8 390 167.5C386.9 169.2 383.2 171.9 381.9 172.8M443.6 126.3L437.4 139.2L431.2 152.6M429.2 155.7C428.2 156.2 425.2 157.8 423 158.8C420.8 159.8 418.2 160.9 415.8 161.9C413.4 162.9 411.2 163.8 408.6 164.9C406 166 402.8 167.5 400.3 168.6C397.8 169.7 395.8 170.2 393.6 171.6C391.4 173 388 176.1 386.9 177M462.2 148.5L470 145.4M393.6 180.3L403.7 174.4M363.5 183.7C363.7 182.7 364.2 179.3 365.1 177.8C366.1 176.3 367.8 174.9 369.3 174.4C370.9 174 373.2 174.5 374.3 175C375.5 175.4 375.7 176.6 376 177M362.6 186.2L361.8 193.7L358.4 203.8L353.4 213.8L351.7 227.2L350.1 240M345 240C345.2 238.1 345.9 232.4 345.9 228.9C345.9 225.4 344.7 221.8 345 218.8C345.3 215.9 346.1 213 347.5 211.3C348.9 209.6 352.4 209.2 353.4 208.8M363.5 193.7C363.3 195.1 361.8 200.1 362.6 202.1C363.5 204 367.5 204.9 368.5 205.4M375.2 184.5L371 185.3L370.2 197.1M387.7 182.8C388.3 183.4 390.3 184.9 391.1 186.2C391.9 187.4 392.9 189 392.8 190.4C392.6 191.8 391.5 193.7 390.3 194.6C389 195.4 386.1 195.2 385.2 195.4M381.9 192.9C382.4 193 384.1 194 385.2 193.7C386.4 193.4 388 191.6 388.6 191.2M382.7 192L390.3 192.4M397 187.9L383.6 203.8L375.2 215.5M398.6 193.7C397.9 196.2 395.4 203.9 393.9 208.8C392.5 213.7 391 217.3 389.8 223C388.5 228.8 387 239.8 386.4 243.1M402.8 195.4C402 197.9 399.7 205.6 398.1 210.5C396.6 215.4 395 219.3 393.6 224.7C392.2 230.2 390.5 240.1 389.9 243.1M386.4 243.1L389.9 243.1M403.5 195.7A2 3.4 20 1 1 399.8 194.4A2 3.4 20 1 1 403.5 195.7ZM408.4 168.6L415.4 177M408.7 182C409.1 180.2 411.8 179.1 413.7 177.8C415.7 176.5 418.2 175.3 420.4 174.4C422.6 173.6 425.2 172.6 427.1 172.8C429.1 172.9 431.2 174 432.1 175.3C433.1 176.5 433.3 178.8 433 180.3C432.7 181.8 432 183.4 430.5 184.5C428.9 185.6 426 186.5 423.8 187C421.5 187.6 419.2 187.6 417.1 187.9C415 188.1 412.6 189.7 411.2 188.7C409.8 187.7 408.3 183.8 408.7 182ZM413.7 177.8L415.4 187.9M420.4 175L422.1 187M423.8 176.1C424.6 176 427.5 174.9 428.8 175.3C430 175.7 430.9 178.1 431.3 178.6M470 173.6C469 175.6 466.1 181.7 464 185.3C461.9 189 459.5 192.6 457.3 195.4C455 198.2 451.7 201 450.6 202.1M451.4 202.9L459.8 213.8M462.3 148.5L470 146M364.3 216.3L385.2 224.7M357.6 120L358.4 125M371 120L370.2 135.1M377.7 120L376 128.4M209.9 657.6A58.1 45.7 -70 1 1 170.1 766.8A58.1 45.7 -70 1 1 209.9 657.6ZM193.3 690.6A20 15.5 -65 1 1 176.3 726.8A20 15.5 -65 1 1 193.3 690.6ZM192.2 695A15.5 10 -65 1 1 179 723A15.5 10 -65 1 1 192.2 695ZM223.7 722.1A16 10.5 -62 1 1 211.7 710.9M221.9 722.5A13.8 8.5 -62 1 1 211.5 713.7M230.9 730.5A15 9.5 -62 1 1 222.5 717.1M229.2 730.4A12.8 7.5 -62 1 1 222 719.7M244.6 723.7A16.5 12.5 -62 1 1 229.2 752.9A16.5 12.5 -62 1 1 244.6 723.7ZM241.6 730.7A9 4.5 -62 1 1 233.2 746.5A9 4.5 -62 1 1 241.6 730.7ZM361.1 694.3A10 9.2 -30 1 1 343.8 704.3A10 9.2 -30 1 1 361.1 694.3ZM359.5 696.8A7 6.4 -30 1 1 347.4 703.8A7 6.4 -30 1 1 359.5 696.8ZM357.4 699.1A3.6 4 -30 1 1 351.1 702.7A3.6 4 -30 1 1 357.4 699.1ZM349.3 707.8A10.4 9.2 -30 0 1 343.8 691.4M345.7 706.5A10 8.8 -30 0 1 340.8 692.1M372.1 709.6A3.2 4.4 25 1 1 366.3 706.9A3.2 4.4 25 1 1 372.1 709.6ZM254.5 787.5A35.5 25 -60 1 1 288.7 728.1M273.3 737.1A19 11.5 -60 1 1 254.3 770.1A19 11.5 -60 1 1 273.3 737.1ZM305.8 736.9A35 25 -60 1 1 270.8 797.5A35 25 -60 1 1 305.8 736.9ZM298.9 753.6A15.8 9.6 -60 1 1 283.1 781A15.8 9.6 -60 1 1 298.9 753.6ZM335.6 732.9A52.3 34 -60 1 1 283.4 823.5A52.3 34 -60 1 1 335.6 732.9ZM331.5 743.7A41.2 28.2 -60 1 1 290.3 815.1A41.2 28.2 -60 1 1 331.5 743.7ZM348.8 772A24.8 18.7 -60 1 1 324 815A24.8 18.7 -60 1 1 348.8 772ZM347.3 775.6A21 14.5 -60 1 1 326.3 812A21 14.5 -60 1 1 347.3 775.6ZM357.8 785.1A17.6 12.6 -60 1 1 340.2 815.5A17.6 12.6 -60 1 1 357.8 785.1ZM356.1 788.9A13.5 8.5 -60 1 1 342.6 812.3A13.5 8.5 -60 1 1 356.1 788.9ZM409.5 778.3A48 34.6 -60 1 1 361.5 861.5A48 34.6 -60 1 1 409.5 778.3ZM402.6 793.3A32.6 22.5 -60 1 1 370 849.7A32.6 22.5 -60 1 1 402.6 793.3ZM368.3 861.6A45 31.6 -60 0 1 370.3 793.2M382.9 795.7A18 11 -60 1 1 364.9 826.9A18 11 -60 1 1 382.9 795.7ZM381.1 799.9A13.5 7.5 -60 1 1 367.6 823.3A13.5 7.5 -60 1 1 381.1 799.9ZM403 632C403.1 633.3 404.3 638 404 640C403.6 642 401.5 642.5 401 644C400.4 645.5 400.1 647.5 400.6 649C401.1 650.5 402.4 652.2 404 653C405.5 653.7 408.2 654.1 410 653.6C411.7 653.1 413.9 651.4 414.6 650C415.2 648.5 414.6 646.5 414 645C413.4 643.5 411.5 643.1 411 641C410.5 638.8 411 633.5 411 632M437.6 688.5A10 12 15 1 1 418.3 683.3A10 12 15 1 1 437.6 688.5ZM427.9 700.3A35.4 24.6 -60 1 1 392.5 761.6A35.4 24.6 -60 1 1 427.9 700.3ZM421 714A19.1 15.5 -60 1 1 401.9 747.1A19.1 15.5 -60 1 1 421 714ZM458.9 716.3A35.9 24.8 -60 1 1 423 778.4A35.9 24.8 -60 1 1 458.9 716.3ZM450.3 729.2A19.8 13.7 -60 1 1 430.5 763.5A19.8 13.7 -60 1 1 450.3 729.2ZM426.9 763.8C428.3 760.8 432.1 751.5 434.9 745.8C437.8 740.2 442.3 733.7 443.9 729.9C445.6 726 444.8 724 444.9 722.9M523.8 638.4A6 4 0 1 1 511.8 638.4A6 4 0 1 1 523.8 638.4ZM514.8 642.4L514.8 647L520.8 647L520.8 642.4M517.8 667.9L517.8 672.9M521.8 702.9L521.8 707.7M483.3 773.8L486.9 767.8L493.9 766.8L499.9 771.8L500.5 778.8L495.9 783.4L487.9 782.8L483.9 778.8ZM493.3 775.4A4 5 0 1 1 485.3 775.4A4 5 0 1 1 493.3 775.4ZM498.5 776.8A3.6 4.8 0 1 1 491.3 776.8A3.6 4.8 0 1 1 498.5 776.8ZM428.1 809.7C428.7 808 429.3 807.1 430.5 806.6C431.6 806.1 433.6 806.1 435.1 806.6C436.6 807.1 437.9 808.1 439.7 809.7C441.5 811.2 443.7 813.7 445.9 815.9C448.1 818.1 451.2 820.8 452.9 822.8C454.6 824.9 455.5 826.3 456 828.2C456.4 830.2 456.2 833 455.5 834.4C454.9 835.8 454.2 836.3 452.1 836.8C450 837.2 445.7 837.2 442.8 837.1C440 836.9 437.3 836.9 435.1 836C432.9 835 431 833.3 429.7 831.3C428.4 829.4 427.8 826.8 427.4 824.4C426.9 821.9 426.9 819.1 427.1 816.6C427.2 814.2 427.6 811.4 428.1 809.7ZM436.6 822.8L442.1 818.2L446.7 822.1L450.6 825.9L451.3 829.8L448.2 832.1L445.9 829.8L443.6 832.1L440.5 829.8L439.7 825.9L436.6 825.2ZM434.8 813.9C434.4 814 433 814.3 432.6 814.8C432.2 815.3 432.2 816.3 432.3 817C432.5 817.6 433.3 818.2 433.6 818.5M432.3 825.9C432.1 826.1 431.2 826.6 431.1 827.2C431 827.7 431.6 828.7 431.7 829M438.2 830.9C438 831.1 437.1 831.6 437 832.1C436.9 832.6 437.5 833.4 437.6 833.7M484.9 812.8C484.2 813.6 481.7 815.6 480.9 817.8C480 819.9 480 824.4 479.9 825.7M484.9 812.8L510.8 824.7M479.9 825.7L504.8 840.7M515.8 834.9A6.4 8.4 20 1 1 503.8 830.5A6.4 8.4 20 1 1 515.8 834.9ZM486.9 815.8L487.9 818.7L489.9 816.8L490.9 820.1L493.3 818.2L494.3 821.7L496.9 819.7L497.9 823.3M506.8 837.7L494.9 848.9M538 702.9C538.8 701.7 540 701.7 542 701.5C544 701.3 548.1 701.1 550 701.5C551.9 701.9 552.9 702.8 553.6 703.9C554.3 705 554.3 706.6 554 707.9C553.7 709.2 553.3 711.1 552 711.9C550.7 712.7 548 712.5 546 712.5C544 712.5 541.5 712.5 540 711.9C538.5 711.3 537.3 710.4 537 708.9C536.7 707.4 537.2 704.1 538 702.9ZM552 759.8C552.5 758 555 756.2 557 755.8C559 755.5 562.1 756.7 564 757.8C565.8 759 567.5 761 568 762.8C568.5 764.7 568.1 767.6 567 768.8C565.8 770 563.1 770.1 561 769.8C558.8 769.5 555.5 768.5 554 766.8C552.5 765.2 551.5 761.7 552 759.8ZM578.5 772.8A1.6 2 15 1 1 575.4 772A1.6 2 15 1 1 578.5 772.8ZM585.9 776.8L592.3 779.8L586.9 781.4M568 827.7L566 848.9M550 845.7C549.7 845.9 548.2 846.2 548 846.7C547.8 847.2 548.5 848.5 548.6 848.9M163.3 890.9A10.4 4.4 0 1 1 142.5 890.9A10.4 4.4 0 1 1 163.3 890.9ZM173.9 903.9A8 3.6 0 1 1 157.9 903.9A8 3.6 0 1 1 173.9 903.9ZM176.3 918.9A10.4 4.4 0 1 1 155.5 918.9A10.4 4.4 0 1 1 176.3 918.9ZM195.8 921.3A7 3.2 0 1 1 181.9 921.3A7 3.2 0 1 1 195.8 921.3ZM198.8 933.3A10 4.4 0 1 1 178.9 933.3A10 4.4 0 1 1 198.8 933.3ZM164.1 936.9A9.6 4.4 0 1 1 144.9 936.9A9.6 4.4 0 1 1 164.1 936.9ZM177.3 947.3A10.4 4.4 0 1 1 156.5 947.3A10.4 4.4 0 1 1 177.3 947.3ZM199.2 959.9A10.4 4.8 0 1 1 178.5 959.9A10.4 4.8 0 1 1 199.2 959.9ZM134.9 940.9C134.8 938.9 135.9 934.6 137.9 932.9C139.9 931.2 143.7 931.7 146.9 930.9C150.1 930.1 153.9 927.7 156.9 927.9C159.9 928.1 162.6 930.4 164.9 931.9C167.2 933.4 169.2 935.1 170.9 936.9C172.5 938.7 172.9 940.9 174.9 942.9C176.9 944.9 180.5 947.4 182.9 948.9C185.2 950.4 185.9 950.9 188.9 951.9C191.9 952.9 197.7 953.5 200.8 954.9C204 956.2 207.2 958 207.8 959.9C208.5 961.7 207.3 964.2 204.8 965.8C202.3 967.5 196.5 969.5 192.8 969.8C189.2 970.2 185.9 968.7 182.9 967.8C179.9 967 176.9 966.5 174.9 964.8C172.9 963.2 173.2 959.2 170.9 957.9C168.5 956.5 163.9 957.9 160.9 956.9C157.9 955.9 155.2 953.7 152.9 951.9C150.6 950 149.2 947 146.9 945.9C144.6 944.7 140.9 945.7 138.9 944.9C136.9 944 135.1 942.9 134.9 940.9ZM232 964.8C229.5 965.5 221 967.5 216.8 968.8C212.6 970.2 208.8 971.5 206.8 972.8C204.8 974.2 204.8 975.5 204.8 976.8C204.8 978.2 206.5 980.2 206.8 980.8M206.8 980.8L232 992.8M204.8 982.8C204.7 983.8 203.5 987.2 203.8 988.8C204.2 990.5 206.3 992.1 206.8 992.8M206.8 992.8L232 1006.8M217.8 999.8L218.8 1014.8M218.8 1014.8C219.5 1015.6 220.6 1018.6 222.8 1019.8C225 1020.9 230.5 1021.4 232 1021.8M232 971.8L219.8 976.8L232 984.8M259 921C259.5 920.5 259.5 918.6 262 918C264.5 917.3 269.3 917.8 274 917C278.6 916.1 284 914.5 289.9 913C295.9 911.5 303.3 909.3 309.9 908C316.6 906.7 323.2 905.8 329.9 905C336.6 904.2 344.5 903.8 349.9 903C355.2 902.2 357.9 900.8 361.9 900C365.8 899.2 369.2 898.7 373.8 898C378.5 897.3 384.6 896.5 389.8 896C395 895.5 402.5 895.2 405 895M259 921C258.7 921.8 257 924.5 257 926C257 927.5 258.7 929.3 259 930M259 930C260.5 930.1 265.1 930.1 268 931C270.8 931.8 272.3 933 276 934.9C279.6 936.9 285.6 940.4 289.9 942.9C294.3 945.4 297.6 948.3 301.9 949.9C306.3 951.6 311.3 951.9 315.9 952.9C320.6 953.9 325.2 955.4 329.9 955.9C334.6 956.4 340.2 956.1 343.9 955.9C347.5 955.8 350 954.8 351.9 954.9C353.7 955.1 354.5 956.1 354.9 956.9C355.2 957.8 354 959.4 353.9 959.9M324.7 909.2A7 2 -15 1 1 311.2 912.8A7 2 -15 1 1 324.7 909.2ZM299.2 916.2A4.4 1.8 -15 1 1 290.7 918.5A4.4 1.8 -15 1 1 299.2 916.2ZM319.9 918.6L326.9 916L337.9 922L331.9 924.6ZM354.7 926A6.4 2.8 0 1 1 341.9 926A6.4 2.8 0 1 1 354.7 926ZM359.3 937.9A11 5.2 0 1 1 337.3 937.9A11 5.2 0 1 1 359.3 937.9ZM299.1 943.8A4.4 2 20 1 1 290.8 940.8A4.4 2 20 1 1 299.1 943.8ZM335.4 950.5A6.4 2 30 1 1 324.4 944.1A6.4 2 30 1 1 335.4 950.5ZM269.6 910.6A2 4.4 0 1 1 265.6 910.6A2 4.4 0 1 1 269.6 910.6ZM259 930L258 935.9M258 935.9C260 936.9 267 939.8 270 941.9C273 944.1 272.6 946.8 276 948.9C279.3 951.1 286 952.8 289.9 954.9C293.9 957.1 295.6 960.2 299.9 961.9C304.3 963.6 310.9 963.9 315.9 964.9C320.9 965.9 326.6 967.9 329.9 967.9C333.2 967.9 333.2 966.1 335.9 964.9C338.6 963.7 342.9 961.7 345.9 960.9C348.9 960.1 352.5 960.1 353.9 959.9M329.9 967.9C330.6 968.6 331.6 970.7 333.9 971.9C336.2 973.1 342.2 974.4 343.9 974.9M250 959.9L280 952.9M250 963.9L289.9 954.9M250 968.9L262 965.9M260 964.9C261.3 964.4 263 963.2 268 961.9C273 960.6 286.3 957.8 289.9 956.9M260 964.9C259.8 966.2 258.7 970.6 259 972.9C259.3 975.2 258.2 976.9 262 978.9C265.8 980.9 276 984.4 282 984.9C288 985.4 292.3 982.9 297.9 981.9C303.6 980.9 310.6 979.1 315.9 978.9C321.2 978.7 327.6 980.6 329.9 980.9M259 972.9C259.2 974.6 258.8 980.2 260 982.9C261.2 985.5 262.3 986.9 266 988.9C269.6 990.9 276.6 994.5 282 994.9C287.3 995.2 291.6 992.2 297.9 990.9C304.3 989.5 313.6 987.9 319.9 986.9C326.2 985.9 332.9 984.7 335.9 984.9C338.9 985 339.9 986.2 337.9 987.9C335.9 989.5 326.4 993 323.9 994.9C321.4 996.7 322.6 998 322.9 998.9C323.2 999.7 322.4 1000.2 325.9 999.9C329.4 999.5 340.9 997.4 343.9 996.9M343.9 974.9L405 960.9M329.9 980.9C331.6 982.2 335.9 987.2 339.9 988.9C343.9 990.5 343 992.5 353.9 990.9C364.7 989.2 396.5 980.9 405 978.9M345.9 987.9L405 972.9M353.9 994.9C356.5 995.5 361.3 999.5 369.8 998.9C378.4 998.2 399.1 992.2 405 990.9M258 849C258.5 850.3 259.8 854.7 261 857C262.1 859.3 264.3 862 265 863M266 849C266.6 850.2 268.3 854.3 270 856C271.6 857.7 273.9 859 275.9 859C277.9 859 280.9 856.5 281.9 856M297.9 850A6 4 0 1 1 285.9 850A6 4 0 1 1 297.9 850ZM273.3 877.6A4.4 2.4 -10 1 1 264.6 879.1A4.4 2.4 -10 1 1 273.3 877.6ZM322.9 881A3.6 2 0 1 1 315.7 881A3.6 2 0 1 1 322.9 881ZM338.9 888.3A3.6 1.8 0 1 1 331.7 888.3A3.6 1.8 0 1 1 338.9 888.3ZM349.8 849C351.5 850.3 356.2 854.8 359.8 857C363.5 859.2 367.3 861 371.8 862C376.3 863 384.5 862.8 387 863M232 979.8L287.9 1018.8L311.9 1022.8L359.8 1032.8L387 1026.8M232 985.8L285.9 1022.8L311.9 1027.8L361.8 1037.8L387 1031.8M232 964.8L258 957.9M232 968.8L250 963.9M232 973.8L252 968.8M387 1009.8C385.1 1009.8 378.8 1009.3 375.8 1009.8C372.8 1010.3 370.2 1011.6 368.8 1012.8C367.5 1014 367.3 1015.6 367.8 1016.8C368.3 1017.9 368.6 1019.1 371.8 1019.8C375 1020.4 384.5 1020.6 387 1020.8M387 1011.8C385.5 1011.8 380.3 1011.5 377.8 1011.8C375.3 1012.1 372.9 1013 371.8 1013.8C370.8 1014.6 370.9 1016 371.4 1016.8C371.9 1017.5 372.2 1018 374.8 1018.4C377.4 1018.7 385 1018.7 387 1018.8M440 849.6A3.6 3.2 -30 1 1 433.8 853.2A3.6 3.2 -30 1 1 440 849.6ZM540.8 868C540.5 868.1 539 868.4 538.8 869C538.6 869.5 539.3 871 539.4 871.4M535.8 896.9C535.5 897.2 534 897.9 533.8 898.5C533.6 899.2 534.6 900.5 534.8 900.9M387 896.9L395 898.9L407 896.9L425 896.5L432.9 900.9L434.9 906.9L440.9 911.9L462.9 925.9M422 928.9C422.5 927.9 424.8 926.7 426.9 925.9C429.1 925.1 432.8 924.1 434.9 923.9C437.1 923.7 439.8 924.2 439.9 924.9C440.1 925.6 437.6 926.9 435.9 927.9C434.3 928.9 431.9 930.2 429.9 930.9C427.9 931.6 425.3 932.2 424 931.9C422.6 931.6 421.5 929.9 422 928.9ZM462.9 925.9L463.9 929.9L456.9 932.9M456.9 932.9C457.7 933.2 460.9 933.9 461.9 934.9C462.9 935.9 463.7 938.1 462.9 938.9C462.1 939.7 458.9 940 456.9 939.9C454.9 939.7 452.2 938.7 450.9 937.9C449.6 937.1 449.3 935.4 448.9 934.9M455.9 930.9L387 952.9M456.9 940.9L454.9 948.9L457.9 952.9L454.9 957.9M454.9 948.9L387 970.8M455.9 957.9L387 980.8M450.9 968.8L387 990.8M450.9 968.8L449.9 984.8L444.9 986.8M447.9 978.8L387 1000.8M444.9 986.8L387 1004.8M416.9 953.7A4.4 2.4 25 1 1 409 950A4.4 2.4 25 1 1 416.9 953.7ZM410 908.9C410.3 909.4 411.1 911.3 412 911.9C412.8 912.5 414.5 912.4 415 912.5M452.9 966.8L490.9 989.8L492.9 992.8L395 1021.8L387 1022.8M489.9 995.8L396 1024.8M456.9 964.8L506.8 992.8L504.8 997.8L387 1030.8M503.8 998.8L503.8 1008.8L482.9 1014.8M396 1014.8A6 4.8 0 1 1 384 1014.8A6 4.8 0 1 1 396 1014.8ZM393 1015.2A3.6 2.8 0 1 1 385.8 1015.2A3.6 2.8 0 1 1 393 1015.2ZM560.8 860.7A6.4 9 25 1 1 549.2 855.3A6.4 9 25 1 1 560.8 860.7ZM566 849C566 850.7 566.8 855.7 566 859C565.1 862.3 562.3 865.3 561 869C559.6 872.6 558.8 877.6 558 881C557.1 884.3 557.3 886.3 556 888.9C554.7 891.6 552.3 894.9 550 896.9C547.7 898.9 543.3 900.3 542 900.9M550.4 886.6L551.6 888.1M557 869.4L558 871M279.8 846.7A7 12.4 -10 1 1 266 849.2A7 12.4 -10 1 1 279.8 846.7ZM282.8 846.1A5 11 -10 1 1 273 847.8A5 11 -10 1 1 282.8 846.1ZM273.9 836L287.9 832M275.9 859.9L291.9 853.5M273.8 877A5 2.2 -10 1 1 264 878.8A5 2.2 -10 1 1 273.8 877ZM322.8 881.3A3.6 1.8 0 1 1 315.6 881.3A3.6 1.8 0 1 1 322.8 881.3ZM567.9 827.9C565.8 827.6 559.8 826.5 555.3 826.1C550.8 825.7 544.5 824.5 540.9 825.4C537.3 826.3 535 828.4 533.7 831.5C532.3 834.6 532 840.1 532.6 844.1C533.2 848.2 536.5 850.9 537.3 855.7C538.1 860.5 537.9 867.7 537.3 873C536.7 878.3 534.7 883.2 533.7 887.4C532.6 891.6 530.8 895.4 531.1 898.2C531.4 901.1 532.9 904.7 535.5 904.7C538 904.7 544.5 899.3 546.3 898.2M567.9 827.9L510.2 858.6M547 830.4C546.7 830.7 545.1 831.3 544.8 831.9C544.6 832.5 545.4 833.7 545.6 834M549.2 845.9C548.8 846.2 547.3 846.8 547 847.4C546.8 848 547.6 849.2 547.7 849.5M562.5 845.9C562.2 846.1 560.9 846.4 560.7 847C560.5 847.6 561.3 849.1 561.4 849.5M540.9 865.8C540.5 866 539 866.6 538.7 867.2C538.5 867.9 539.3 869.3 539.4 869.7M558.9 867.6C558.6 867.8 557 868.4 556.8 869C556.5 869.7 557.4 871.1 557.5 871.5M551.7 885.6C551.3 885.9 549.8 886.4 549.5 887.1C549.3 887.7 550.1 889.2 550.3 889.6M536.2 895.4C535.8 895.6 534.3 896.1 534 896.8C533.8 897.5 534.6 898.9 534.7 899.3"/>
<path stroke-width="3.3" d="M211.9 46.9L243.9 74.3M411.7 78.9L418.8 78.9M291.7 232.7C292.3 233.1 294 234.1 294.9 235.3C295.9 236.5 297.1 239 297.5 239.8M384.2 800.1A15.8 9.2 -60 0 1 383.3 813.6M366.2 825.1A15.8 9.2 -60 0 1 363.1 820M314.9 927A1.4 0.8 0 1 1 312.1 927A1.4 0.8 0 1 1 314.9 927ZM454.9 970.8L489.9 992.8"/>
<path stroke-width="3.75" d="M248.9 76.9L251.9 79.9M250.9 75.5L254.3 81.9M253.5 76.9L256.8 83.9M255.8 78.3L259.2 85.9M258.2 79.9L261.2 87.3M259.8 81.9L261.8 86.3M267.2 275.2L278.8 274.6M309.1 297.8C310.2 297.7 313.6 296.7 315.6 297.1C317.5 297.6 319.9 299.8 320.7 300.4M310.4 312C311.3 312.3 313.8 314.1 315.6 313.9C317.3 313.7 319.9 311.2 320.7 310.7M400.3 192L409.5 183.7"/>
<path stroke-width="3" d="M311.1 272L322 270.1L323.3 273.9L311.7 276.5ZM190.8 699.3A11 5.5 -65 1 1 181.6 719.3A11 5.5 -65 1 1 190.8 699.3ZM189 723.7A18.5 14 -65 0 1 169.7 708.6M134.9 939.9L136.9 942.9M155.9 928.5L158.9 929.9M170.9 938.9L172.9 941.9M164.9 954.9L169.9 955.9M183.9 951.3L186.9 952.5M190.9 968.4L194.8 968.8"/>
<path stroke-width="3.6" d="M189.4 703.1A7 2.2 -65 1 1 183.4 715.7A7 2.2 -65 1 1 189.4 703.1ZM580.4 773.3A3.6 4.2 15 1 1 573.5 771.5A3.6 4.2 15 1 1 580.4 773.3ZM296.2 841.2A6.4 11 -10 1 1 283.6 843.5A6.4 11 -10 1 1 296.2 841.2Z"/>
<path stroke-width="3" stroke-dasharray="1.5,1.5" d="M243.3 727A13 8.5 -62 1 1 231.1 750A13 8.5 -62 1 1 243.3 727Z"/>
<path stroke-width="1.5" d="M230.8 653C228.5 654.3 220.8 658.3 216.8 661C212.8 663.6 210.2 666.8 206.8 668.9C203.5 671.1 198.8 671.9 196.8 673.9C194.8 675.9 194.8 678.9 194.8 680.9C194.8 682.9 197.2 684.1 196.8 685.9C196.5 687.8 194.5 689.3 192.8 691.9C191.2 694.6 189.5 698.6 186.9 701.9C184.2 705.2 179.9 709.1 176.9 711.9C173.9 714.7 170.5 716.5 168.9 718.9C167.2 721.2 168.5 723.2 166.9 725.9C165.2 728.5 161.6 731.9 158.9 734.9C156.2 737.9 152.9 740.7 150.9 743.8C148.9 747 147.7 750.5 146.9 753.8C146.1 757.2 147.6 760.6 145.9 763.8C144.2 767.1 137.9 770.1 136.9 773.4C135.9 776.7 138.3 781.2 139.9 783.8C141.6 786.4 144.2 787.1 146.9 788.8C149.6 790.5 154.6 792 155.9 793.8C157.2 795.6 155.4 798.1 154.9 799.8C154.4 801.4 152.2 800.8 152.9 803.8C153.6 806.8 156.9 813.4 158.9 817.8C160.9 822.1 162.9 825.9 164.9 829.7C166.9 833.6 168.5 837.9 170.9 840.7C173.2 843.6 175.5 845.3 178.9 846.7C182.2 848.1 188.9 848.5 190.9 848.9M232 652C234 650.8 239.7 647.8 244 645C248.3 642.1 254.5 637.3 258 635C261.5 632.7 262.6 631.2 265 631C267.3 630.8 269.8 633 271.9 634C274.1 635 276.9 636.5 277.9 637M291.9 638C293.9 638.5 299.9 639.5 303.9 641C307.9 642.5 311.9 644.8 315.9 647C319.9 649.1 324.5 651.6 327.9 654C331.2 656.3 333.7 659.3 335.9 661C338 662.6 338.9 663.1 340.9 664C342.9 664.8 345.7 665.1 347.8 665.9C350 666.8 352.2 667.6 353.8 668.9C355.5 670.3 356.8 671.9 357.8 673.9C358.8 675.9 359.5 679.8 359.8 680.9M375.8 668.9C376.5 667.6 377.9 662.8 379.8 661C381.7 659.1 385.8 658.5 387 658M312.9 774.1A6.2 3.8 -60 1 1 306.7 784.9A6.2 3.8 -60 1 1 312.9 774.1ZM297.8 809.7A4.4 2.6 -15 1 1 289.2 811.9A4.4 2.6 -15 1 1 297.8 809.7ZM430.5 811.2C431 810 431.8 809.7 432.8 809.7C433.8 809.6 434.8 809.5 436.6 810.9C438.5 812.3 441.7 815.8 444.1 818.2C446.4 820.6 449.4 823.4 450.9 825.3C452.4 827.2 452.9 828.4 453 829.8C453.2 831.2 453.4 832.9 451.8 833.7C450.2 834.4 446.2 834.4 443.6 834.3C441 834.2 438.2 834 436.2 833.2C434.2 832.4 432.7 831.2 431.7 829.6C430.7 828 430.3 825.7 430 823.6C429.7 821.5 429.6 819 429.7 817C429.8 814.9 429.9 812.4 430.5 811.2ZM387 658C388 658.5 391 660 393 661C395 662 396.7 663.5 399 664C401.3 664.5 404 664.3 407 664C410 663.6 414 663 417 662C420 661 422.3 658.1 425 658C427.6 657.8 430.3 660.1 432.9 661C435.6 661.8 438.3 663.3 440.9 663C443.6 662.6 446.6 659.6 448.9 659C451.2 658.3 453.9 659 454.9 659M462.9 663C463.4 664.5 465.2 669.1 465.9 671.9C466.6 674.8 466.7 678.6 466.9 679.9M466.9 679.9L488.9 704.9M514.8 721.9L515.8 749.8L519.8 755.8L514.8 773.8L510.8 777.8M486.9 801.8L484.9 811.8M568 827.7C568.6 825.7 570.3 819.4 572 815.8C573.6 812.1 576.8 809.1 578 805.8C579.1 802.4 578 798.3 579 795.8C580 793.3 581.1 792.5 583.9 790.8C586.8 789.1 591.9 787.5 595.9 785.8C599.9 784.1 604.3 782.1 607.9 780.8C611.6 779.5 615.2 778.1 617.9 777.8C620.6 777.5 621.6 777.8 623.9 778.8C626.2 779.8 629.2 783.1 631.9 783.8C634.5 784.5 637.5 782.1 639.9 782.8C642.2 783.5 644.2 785.3 645.9 787.8C647.5 790.3 648.5 795.4 649.9 797.8C651.2 800.1 653.5 799.8 653.9 801.8C654.2 803.8 652 807.1 651.9 809.8C651.7 812.4 652.5 815.1 652.9 817.8C653.2 820.4 652.9 823.4 653.9 825.7C654.9 828.1 658.2 829.4 658.8 831.7C659.5 834.1 658.3 836.9 657.8 839.7C657.4 842.6 656.2 847.4 655.9 848.9M232 863L235 863L235.6 882L232 882M348.8 849C349.3 850 350.8 853 351.8 855C352.8 857 354.7 858.7 354.8 861C355 863.3 352.3 866.6 352.8 869C353.3 871.3 356 873 357.8 875C359.7 877 361.5 878.6 363.8 881C366.2 883.3 369.2 886.8 371.8 888.9C374.5 891.1 377.3 893.4 379.8 893.9C382.3 894.4 385.8 892.3 387 891.9M232 1020.8C233.7 1022.1 238 1026.8 242 1028.8C246 1030.8 251.6 1030.8 256 1032.8C260.3 1034.8 263.3 1037.4 268 1040.8C272.6 1044.1 278.6 1050.1 283.9 1052.7C289.3 1055.4 294.6 1055.7 299.9 1056.7C305.2 1057.7 310.6 1057.7 315.9 1058.7C321.2 1059.7 325.9 1061.7 331.9 1062.7C337.9 1063.7 345.2 1064.2 351.8 1064.7C358.5 1065.2 366 1065.9 371.8 1065.7C377.7 1065.6 384.5 1064.1 387 1063.7M469.9 861L476.9 871L484.9 881L484.9 898.9L488.9 902.9M488.9 902.9C488.5 904.6 487.9 910.4 486.9 912.9C485.9 915.4 483.4 915.9 482.9 917.9C482.4 919.9 482.5 923.1 483.9 924.9C485.2 926.7 489.5 926.9 490.9 928.9C492.2 930.9 492.2 934.2 491.9 936.9C491.5 939.5 489.4 943.5 488.9 944.9M488.9 946.9L506.8 956.9L516.8 966.8L526.8 973.8L534.8 965.8L542 964.8M536.8 849C535.1 850 530.5 853.3 526.8 855C523.2 856.7 517.8 857 514.8 859C511.8 861 510.2 864.3 508.8 867C507.5 869.6 507.2 873.6 506.8 875M498.9 885C497.5 885.5 492.4 885.3 490.9 887.9C489.4 890.6 490 898.8 489.9 900.9M535.8 849C536 851 536.8 857.7 536.8 861C536.8 864.3 535.5 866 535.8 869C536.1 872 538.6 875.6 538.8 879C539 882.3 538 886 536.8 888.9C535.6 891.9 532.8 894.9 531.8 896.9C530.8 898.9 530.3 899.8 530.8 900.9C531.3 902.1 532.9 903.8 534.8 903.9C536.7 904.1 540.8 902.3 542 901.9M476.9 1018.8C473.6 1020.4 463.6 1025.4 456.9 1028.8C450.3 1032.1 441.9 1035.8 436.9 1038.8C431.9 1041.7 430.3 1045.1 426.9 1046.7C423.6 1048.4 420.3 1047.4 417 1048.7C413.6 1050.1 412 1053.1 407 1054.7C402 1056.4 390.3 1058.1 387 1058.7M655.9 849C654.9 849.5 651.5 851 649.9 852C648.2 853 647.2 853.2 645.9 855C644.5 856.8 642.5 861.7 641.9 863M631.9 875C630.7 876 625.7 879 624.9 881C624.1 883 627.4 885.1 626.9 887C626.4 888.8 623.4 890.8 621.9 891.9C620.4 893.1 618.6 893.6 617.9 893.9M617.9 893.9L613.9 914.9M613.9 914.9C614.4 915.7 616.7 918.1 616.9 919.9C617.1 921.7 615.9 924.4 614.9 925.9C613.9 927.4 611.6 928.4 610.9 928.9M610.9 928.9L610.9 947.9L564 961.9M564 961.9C563 961.4 560 959 558 958.9C556 958.7 554.7 959.9 552 960.9C549.3 961.9 543.7 964.2 542 964.8M180 845.9C181 846.4 183.8 848.6 186 848.9C188.2 849.3 190.3 847.1 193 847.9C195.6 848.8 198.8 852.1 202 853.9C205.1 855.8 210.3 858.1 212 858.9M223.9 861.9L235.5 862.9L235.5 881.9M199 891.9L198 898.9M455.7 878.3C457.1 876.5 462 871.3 464.3 867.7C466.5 864.2 467.7 860.6 469.2 856.7C470.6 852.9 471.2 850.4 472.8 844.5C474.5 838.6 477.9 825.1 479 821.2"/>
<path stroke-width="1.5" stroke-dasharray="8,3,2,3" d="M277.9 637L291.9 638M359.8 680.9L375.8 668.9"/>
<path stroke-width="2.4" stroke-dasharray="1.2,2.6" d="M334.1 814.8A22.6 16.3 -60 0 1 339.5 772.8"/>
<path stroke-width="2.4" d="M354.2 792.6A9.5 4.2 -60 1 1 344.8 809A9.5 4.2 -60 1 1 354.2 792.6Z"/>
<path stroke-width="2.25" d="M412.8 659A3.8 1.4 0 1 1 405.2 659A3.8 1.4 0 1 1 412.8 659ZM522.4 653.6A4.6 1.6 0 1 1 513.2 653.6A4.6 1.6 0 1 1 522.4 653.6ZM524.4 705.3A2.6 4 0 1 1 519.2 705.3A2.6 4 0 1 1 524.4 705.3ZM433.9 842.9A4.2 4 0 1 1 425.5 842.9A4.2 4 0 1 1 433.9 842.9ZM441.9 849.9A4.5 4.2 0 1 1 432.9 849.9A4.5 4.2 0 1 1 441.9 849.9ZM261.2 936.9A2.2 1.4 0 1 1 256.8 936.9A2.2 1.4 0 1 1 261.2 936.9ZM277.4 947.3A2.4 1.6 0 1 1 272.6 947.3A2.4 1.6 0 1 1 277.4 947.3ZM298.5 953.9A3 2 0 1 1 292.5 953.9A3 2 0 1 1 298.5 953.9Z"/>
<path stroke-width="1.65" d="M460.1 685A3.6 1.6 -5 1 1 452.9 685.6A3.6 1.6 -5 1 1 460.1 685Z"/>
<path stroke-width="2.7" d="M429.9 730.9C428.9 732.2 425.6 736.2 424 738.9C422.3 741.5 420.6 745.5 420 746.8"/>
<path stroke-width="1.95" stroke-dasharray="12,2.5,2,2.5" d="M387 783.8L426.9 763.8M444.9 722.9L486.9 704.9"/>
<path stroke-width="1.2" stroke-dasharray="7,4" d="M490.9 704.9L516.8 704.9M517.8 672.9L475.9 684.9M520.8 800.8L542 795.8M542 794.8L591.9 779.8"/>
<path stroke-width="1.8" d="M427.7 845.7L431.4 840.5M429.2 846.5L432.3 841.4M435.6 852.8L439.4 847.6M437.1 853.5L440.7 848.8"/>
<path stroke-width="1.5" stroke-dasharray="6,4" d="M454.9 659C455.7 659.2 458.6 659.7 459.9 660.4C461.2 661 462.4 662.5 462.9 663"/>
<path stroke-width="1.5" stroke-dasharray="7,3,2,3" d="M488.9 704.9L514.8 721.9M506.8 875C506.2 876 504.2 879.3 502.8 881C501.5 882.6 499.5 884.3 498.9 885M641.9 863L631.9 875M212 858.9L223.9 861.9"/>
<path stroke-width="1.5" stroke-dasharray="12,2.5,2,2.5" d="M510.8 777.8L486.9 801.8M510.8 777.8C511.5 780.1 514.2 787.1 514.8 791.8C515.5 796.4 515.3 801.4 514.8 805.8C514.3 810.1 512.8 814.1 511.8 817.8C510.8 821.4 509.3 826.1 508.8 827.7M194.8 849C196.5 850.2 201.2 854 204.8 856C208.5 858 212.3 859.8 216.8 861C221.3 862.1 229.5 862.6 232 863M232 882C229.5 882.6 222 884.6 216.8 886C211.6 887.3 204 888.8 200.8 889.9C197.7 891.1 198.3 891.6 197.8 892.9C197.3 894.3 197.8 897.1 197.8 897.9M197.8 897.9L250 928.5M353.9 959.9L405 946.9M250 928L262 933.9M232 1006.8C235.3 1008.8 246 1015.1 252 1018.8C258 1022.4 265.3 1027.1 268 1028.8M456.9 875C453.6 876.1 444.6 880 436.9 882C429.3 884 419.3 885.3 411 887C402.6 888.6 391 891.1 387 891.9M475.9 870L498.9 849M482.9 1014.8L417 1034.8M235.5 881.9L199 891.9"/>
<path stroke-width="2.1" d="M264 920L267 920.6M272 920.6L275 920.2M280 920L282 919.4M303.9 914.6L305.9 915M331.9 908L333.9 908.6M362.9 902.6L365.4 903M377.8 903L379.8 902.6M262 926L265 925.4M276 933.9L278 934.5M296.9 949.9L298.9 950.9M321.9 953.3L324.3 954.1M347.9 967.9L350.9 968.5M361.9 971.9L364.9 970.9M385.8 967.9L388.8 967.3M265 968.9L267 969.7M274 975.9L276.4 976.5M299.9 975.3L301.9 976.5M288 964.9L289.9 965.3M295.9 982.5L298.3 982.9M273 985.9L275.6 986.5M264 978.9L266 979.9M345.9 975.9L348.9 976.9M361.9 985.9L364.9 985.3M387.8 981.3L390.8 980.9M373.8 993.9L376.8 993.3M387.8 991.9L389.8 991.3M296.9 990.5L298.9 990.9M248 998.8L250.4 1000.8M273.9 1013.8L276.3 1015.2M309.9 1024.8L312.3 1025.6M357.8 1032.4L360.8 1033.2M405 900.5L408 901.3M427.9 903.9L429.9 905.9M435.9 914.9L438.5 916.5M457.9 928.5L460.5 929.3M444.9 939.9L446.9 941.3M450.9 944.5L452.9 945.7M427.9 952.9L430.5 953.7M436.9 952.9L439.3 953.7M450.9 955.9L453.3 956.9M410 960.9L412.6 961.9M427.9 966.8L430.5 967.6M437.9 966.8L440.5 967.6M410 973.8L412.6 974.8M443.9 974.8L446.5 975.6M411 983.8L413.4 984.8M444.9 984.8L446.9 985.6M387 991.8L389.4 992.4M412 992.8L414.6 993.6M390 998.8L392.6 999.6M458.9 969.8L461.3 970.8M481.9 980.8L484.9 982.4M482.9 997.8L485.3 998.8M454.9 1007.2L457.9 1008M424 1015.8L426.5 1016.4M392 1024.4L394.6 1025.2"/>
<path stroke-width="4.5" d="M337.9 878A2.4 2.4 0 1 1 333.1 878A2.4 2.4 0 1 1 337.9 878Z"/>
<path stroke-width="1.95" stroke-dasharray="8,4" d="M464.9 925.9L482.9 924.9"/>
<path stroke-width="1.95" fill="black" fill-rule="evenodd" d="M451.3 1044.1A4.8 2 0 1 1 441.7 1044.1A4.8 2 0 1 1 451.3 1044.1Z"/>
<path stroke-width="1.5" stroke-dasharray="10,3" d="M270.9 826C269.7 826.5 265.9 827.5 263.9 829C261.9 830.5 260.1 832.5 258.9 835C257.7 837.5 256.9 840.8 256.9 843.9C256.9 847.1 257.7 850.8 258.9 853.9C260.1 857.1 263.1 861.4 263.9 862.9"/>
<!-- clutch plate ring sets -->
<path fill="#fff" fill-rule="evenodd" stroke-width="1.95" d="M159.3 470.2A34.5 23.6 -60 1 1 124.8 530A34.5 23.6 -60 1 1 159.3 470.2ZM154.8 478A25.5 16.8 -60 1 1 129.3 522.2A25.5 16.8 -60 1 1 154.8 478Z"/>
<path stroke-width="1.25" stroke-linejoin="miter" d="M126.8 519.7L127.4 517.4L125.3 517.6L126.3 515.3L124.1 515.1L125.5 512.9L123.4 512.3L125.1 510.2L123.1 509.2L125 507.2L123.2 505.9L125.4 504.1L123.7 502.4L126.1 501L124.6 498.9L127.2 497.8L126 495.5L128.6 494.6L127.7 492.1L130.3 491.6L129.7 488.9L132.3 488.8L132 486L134.5 486.2L134.5 483.4L136.8 483.9L137.2 481.1L139.3 482L140 479.3L141.9 480.5L142.8 478L144.4 479.5L145.7 477.1L146.9 478.9L148.4 476.8"/>
<path stroke-width="1.4" d="M148.8 478.4A23.5 14.8 -60 1 1 126.7 516.7"/>
<path fill="#fff" fill-rule="evenodd" stroke-width="1.95" d="M176.7 479.9A34.5 23.6 -60 1 1 142.2 539.7A34.5 23.6 -60 1 1 176.7 479.9ZM172.2 487.7A25.5 16.8 -60 1 1 146.7 531.9A25.5 16.8 -60 1 1 172.2 487.7Z"/>
<path stroke-width="1.25" stroke-linejoin="miter" d="M144.1 529.4L144.7 527.1L142.6 527.3L143.6 525L141.4 524.8L142.8 522.6L140.7 522L142.4 519.9L140.4 518.9L142.3 516.9L140.5 515.6L142.7 513.8L141 512.1L143.4 510.7L141.9 508.6L144.5 507.5L143.3 505.2L145.9 504.3L145 501.8L147.6 501.3L147 498.6L149.6 498.5L149.3 495.7L151.8 495.9L151.8 493.1L154.1 493.6L154.5 490.8L156.6 491.7L157.3 489L159.2 490.2L160.1 487.7L161.7 489.2L163 486.8L164.2 488.6L165.7 486.5"/>
<path stroke-width="1.4" d="M166.1 488.1A23.5 14.8 -60 1 1 144 526.4"/>
<path fill="#fff" fill-rule="evenodd" stroke-width="1.95" d="M232.7 511.3A34.5 23.6 -60 1 1 198.2 571.1A34.5 23.6 -60 1 1 232.7 511.3ZM228.2 519.1A25.5 16.8 -60 1 1 202.7 563.3A25.5 16.8 -60 1 1 228.2 519.1Z"/>
<path stroke-width="1.25" stroke-linejoin="miter" d="M200.1 560.8L200.7 558.5L198.6 558.7L199.6 556.4L197.4 556.2L198.8 554L196.7 553.4L198.4 551.3L196.4 550.3L198.3 548.3L196.5 547L198.7 545.2L197 543.5L199.4 542.1L197.9 540L200.5 538.9L199.3 536.6L201.9 535.7L201 533.2L203.6 532.7L203 530L205.6 529.9L205.3 527.1L207.8 527.3L207.8 524.5L210.1 525L210.5 522.2L212.6 523.1L213.3 520.4L215.2 521.6L216.1 519.1L217.7 520.6L219 518.2L220.2 520L221.7 517.9"/>
<path stroke-width="1.4" d="M222.1 519.5A23.5 14.8 -60 1 1 200 557.8"/>
<path fill="#fff" fill-rule="evenodd" stroke-width="1.95" d="M250.6 521.6A34.5 23.6 -60 1 1 216.1 581.4A34.5 23.6 -60 1 1 250.6 521.6ZM246.1 529.4A25.5 16.8 -60 1 1 220.6 573.6A25.5 16.8 -60 1 1 246.1 529.4Z"/>
<path stroke-width="1.25" stroke-linejoin="miter" d="M218 571.1L218.6 568.8L216.5 569L217.5 566.7L215.3 566.5L216.7 564.3L214.6 563.7L216.3 561.6L214.3 560.6L216.2 558.6L214.4 557.3L216.6 555.5L214.9 553.8L217.3 552.4L215.8 550.3L218.4 549.2L217.2 546.9L219.8 546L218.9 543.5L221.5 543L220.9 540.3L223.5 540.2L223.2 537.4L225.7 537.6L225.7 534.8L228 535.3L228.4 532.5L230.5 533.4L231.2 530.7L233.1 531.9L234 529.4L235.6 530.9L236.9 528.5L238.1 530.3L239.6 528.2"/>
<path stroke-width="1.4" d="M240 529.8A23.5 14.8 -60 1 1 217.9 568.1"/>
<path fill="#fff" fill-rule="evenodd" stroke-width="1.95" d="M270.1 532.4A34.5 23.6 -60 1 1 235.6 592.2A34.5 23.6 -60 1 1 270.1 532.4ZM265.6 540.2A25.5 16.8 -60 1 1 240.1 584.4A25.5 16.8 -60 1 1 265.6 540.2Z"/>
<path stroke-width="1.25" stroke-linejoin="miter" d="M237.5 581.9L238.1 579.6L236 579.8L237 577.5L234.8 577.3L236.2 575.1L234.1 574.5L235.8 572.4L233.8 571.4L235.7 569.4L233.9 568.1L236.1 566.3L234.4 564.6L236.8 563.2L235.3 561.1L237.9 560L236.7 557.7L239.3 556.8L238.4 554.3L241 553.8L240.4 551.1L243 551L242.7 548.2L245.2 548.4L245.2 545.6L247.5 546.1L247.9 543.3L250 544.2L250.7 541.5L252.6 542.7L253.5 540.2L255.1 541.7L256.4 539.3L257.6 541.1L259.1 539"/>
<path stroke-width="1.4" d="M259.5 540.6A23.5 14.8 -60 1 1 237.4 578.9"/>
<path fill="#fff" fill-rule="evenodd" stroke-width="1.95" d="M311.5 427.3A43 29.2 -60 1 1 268.5 501.7A43 29.2 -60 1 1 311.5 427.3ZM306.1 436.5A32.3 22.8 -60 1 1 273.9 492.5A32.3 22.8 -60 1 1 306.1 436.5Z"/>
<path stroke-width="1.25" stroke-linejoin="miter" d="M270.3 489.3L270.9 486.9L268.7 487.3L269.5 484.9L267.3 485L268.4 482.7L266.2 482.4L267.6 480.2L265.5 479.7L267.1 477.6L265 476.7L266.8 474.8L264.8 473.7L266.8 471.8L264.9 470.4L267.1 468.8L265.4 467.2L267.7 465.7L266.1 463.9L268.5 462.6L267.1 460.6L269.6 459.6L268.4 457.3L271 456.6L270 454.1L272.6 453.6L271.8 451.1L274.4 450.9L273.9 448.2L276.4 448.3L276.1 445.6L278.6 445.8L278.5 443.1L280.9 443.7L281.1 440.9L283.3 441.7L283.8 439L285.8 440.1L286.5 437.5L288.4 438.7L289.3 436.2L290.9 437.7L292.1 435.3L293.5 437L294.8 434.8L296 436.6L297.5 434.6"/>
<path stroke-width="1.4" d="M298.1 436.3A30.3 20.8 -60 1 1 269.6 485.6"/>
<path fill="#fff" fill-rule="evenodd" stroke-width="1.95" d="M332.3 438.6A43 29.2 -60 1 1 289.3 513A43 29.2 -60 1 1 332.3 438.6ZM326.9 447.8A32.3 22.8 -60 1 1 294.7 503.8A32.3 22.8 -60 1 1 326.9 447.8Z"/>
<path stroke-width="1.25" stroke-linejoin="miter" d="M291.1 500.6L291.7 498.2L289.5 498.6L290.3 496.2L288.1 496.3L289.2 494L287 493.7L288.4 491.5L286.3 491L287.9 488.9L285.8 488L287.6 486.1L285.6 485L287.6 483.1L285.7 481.7L287.9 480.1L286.2 478.5L288.5 477L286.9 475.2L289.3 473.9L287.9 471.9L290.4 470.9L289.2 468.6L291.8 467.9L290.8 465.4L293.4 464.9L292.6 462.4L295.2 462.2L294.7 459.5L297.2 459.6L296.9 456.9L299.4 457.1L299.3 454.4L301.7 455L301.9 452.2L304.1 453L304.6 450.3L306.6 451.4L307.3 448.8L309.2 450L310.1 447.5L311.7 449L312.9 446.6L314.3 448.3L315.6 446.1L316.8 447.9L318.3 445.9"/>
<path stroke-width="1.4" d="M318.9 447.6A30.3 20.8 -60 1 1 290.4 496.9"/>
<path fill="#fff" fill-rule="evenodd" stroke-width="1.95" d="M347.1 447.4A43 29.2 -60 1 1 304.1 521.8A43 29.2 -60 1 1 347.1 447.4ZM341.8 456.6A32.3 22.8 -60 1 1 309.5 512.6A32.3 22.8 -60 1 1 341.8 456.6Z"/>
<path stroke-width="1.25" stroke-linejoin="miter" d="M305.9 509.4L306.5 507L304.3 507.4L305.1 505L302.9 505.1L304 502.8L301.8 502.5L303.2 500.3L301.1 499.8L302.7 497.7L300.6 496.8L302.4 494.9L300.4 493.8L302.4 491.9L300.5 490.5L302.7 488.9L301 487.3L303.3 485.8L301.7 484L304.1 482.7L302.7 480.7L305.2 479.7L304 477.4L306.6 476.7L305.6 474.2L308.2 473.7L307.4 471.2L310 471L309.5 468.3L312 468.4L311.7 465.7L314.2 465.9L314.1 463.2L316.5 463.8L316.7 461L318.9 461.8L319.4 459.1L321.4 460.2L322.1 457.6L324 458.8L324.9 456.3L326.5 457.8L327.7 455.4L329.1 457.1L330.4 454.9L331.6 456.7L333.1 454.7"/>
<path stroke-width="1.4" d="M333.7 456.4A30.3 20.8 -60 1 1 305.2 505.7"/>
<path fill="#fff" fill-rule="evenodd" stroke-width="1.95" d="M375.3 462.3A43 29.2 -60 1 1 332.3 536.7A43 29.2 -60 1 1 375.3 462.3ZM369.9 471.5A32.3 22.8 -60 1 1 337.7 527.5A32.3 22.8 -60 1 1 369.9 471.5Z"/>
<path stroke-width="1.25" stroke-linejoin="miter" d="M334.1 524.3L334.7 521.9L332.5 522.3L333.3 519.9L331.1 520L332.2 517.7L330 517.4L331.4 515.2L329.3 514.7L330.9 512.6L328.8 511.7L330.6 509.8L328.6 508.7L330.6 506.8L328.7 505.4L330.9 503.8L329.2 502.2L331.5 500.7L329.9 498.9L332.3 497.6L330.9 495.6L333.4 494.6L332.2 492.3L334.8 491.6L333.8 489.1L336.4 488.6L335.6 486.1L338.2 485.9L337.7 483.2L340.2 483.3L339.9 480.6L342.4 480.8L342.3 478.1L344.7 478.7L344.9 475.9L347.1 476.7L347.6 474L349.6 475.1L350.3 472.5L352.2 473.7L353.1 471.2L354.7 472.7L355.9 470.3L357.3 472L358.6 469.8L359.8 471.6L361.3 469.6"/>
<path stroke-width="1.4" d="M361.9 471.3A30.3 20.8 -60 1 1 333.4 520.6"/>
<path fill="#fff" fill-rule="evenodd" stroke-width="1.95" d="M394.5 473.5A43 29.2 -60 1 1 351.5 547.9A43 29.2 -60 1 1 394.5 473.5ZM389.1 482.7A32.3 22.8 -60 1 1 356.9 538.7A32.3 22.8 -60 1 1 389.1 482.7Z"/>
<path stroke-width="1.25" stroke-linejoin="miter" d="M353.3 535.5L353.9 533.1L351.7 533.5L352.5 531.1L350.3 531.2L351.4 528.9L349.2 528.6L350.6 526.4L348.5 525.9L350.1 523.8L348 522.9L349.8 521L347.8 519.9L349.8 518L347.9 516.6L350.1 515L348.4 513.4L350.7 511.9L349.1 510.1L351.5 508.8L350.1 506.8L352.6 505.8L351.4 503.5L354 502.8L353 500.3L355.6 499.8L354.8 497.3L357.4 497.1L356.9 494.4L359.4 494.5L359.1 491.8L361.6 492L361.5 489.3L363.9 489.9L364.1 487.1L366.3 487.9L366.8 485.2L368.8 486.3L369.5 483.7L371.4 484.9L372.3 482.4L373.9 483.9L375.1 481.5L376.5 483.2L377.8 481L379 482.8L380.5 480.8"/>
<path stroke-width="1.4" d="M381.1 482.5A30.3 20.8 -60 1 1 352.6 531.8"/>
<path fill="#fff" fill-rule="evenodd" stroke-width="1.95" d="M415.3 485.4A43 29.2 -60 1 1 372.3 559.8A43 29.2 -60 1 1 415.3 485.4ZM409.9 494.6A32.3 22.8 -60 1 1 377.7 550.6A32.3 22.8 -60 1 1 409.9 494.6Z"/>
<path stroke-width="1.25" stroke-linejoin="miter" d="M374.1 547.4L374.7 545L372.5 545.4L373.3 543L371.1 543.1L372.2 540.8L370 540.5L371.4 538.3L369.3 537.8L370.9 535.7L368.8 534.8L370.6 532.9L368.6 531.8L370.6 529.9L368.7 528.5L370.9 526.9L369.2 525.3L371.5 523.8L369.9 522L372.3 520.7L370.9 518.7L373.4 517.7L372.2 515.4L374.8 514.7L373.8 512.2L376.4 511.7L375.6 509.2L378.2 509L377.7 506.3L380.2 506.4L379.9 503.7L382.4 503.9L382.3 501.2L384.7 501.8L384.9 499L387.1 499.8L387.6 497.1L389.6 498.2L390.3 495.6L392.2 496.8L393.1 494.3L394.7 495.8L395.9 493.4L397.3 495.1L398.6 492.9L399.8 494.7L401.3 492.7"/>
<path stroke-width="1.4" d="M401.9 494.4A30.3 20.8 -60 1 1 373.4 543.7"/>
<path fill="#fff" fill-rule="evenodd" stroke-width="1.95" d="M434.5 495.5A43 29.2 -60 1 1 391.5 569.9A43 29.2 -60 1 1 434.5 495.5ZM429.1 504.7A32.3 22.8 -60 1 1 396.9 560.7A32.3 22.8 -60 1 1 429.1 504.7Z"/>
<path stroke-width="1.25" stroke-linejoin="miter" d="M393.3 557.5L393.9 555.1L391.7 555.5L392.5 553.1L390.3 553.2L391.4 550.9L389.2 550.6L390.6 548.4L388.5 547.9L390.1 545.8L388 544.9L389.8 543L387.8 541.9L389.8 540L387.9 538.6L390.1 537L388.4 535.4L390.7 533.9L389.1 532.1L391.5 530.8L390.1 528.8L392.6 527.8L391.4 525.5L394 524.8L393 522.3L395.6 521.8L394.8 519.3L397.4 519.1L396.9 516.4L399.4 516.5L399.1 513.8L401.6 514L401.5 511.3L403.9 511.9L404.1 509.1L406.3 509.9L406.8 507.2L408.8 508.3L409.5 505.7L411.4 506.9L412.3 504.4L413.9 505.9L415.1 503.5L416.5 505.2L417.8 503L419 504.8L420.5 502.8"/>
<path stroke-width="1.4" d="M421.1 504.5A30.3 20.8 -60 1 1 392.6 553.8"/>
<path fill="#fff" fill-rule="evenodd" stroke-width="1.95" d="M450.9 504.4A43 29.2 -60 1 1 407.9 578.8A43 29.2 -60 1 1 450.9 504.4ZM445.5 513.6A32.3 22.8 -60 1 1 413.2 569.6A32.3 22.8 -60 1 1 445.5 513.6Z"/>
<path stroke-width="1.25" stroke-linejoin="miter" d="M409.7 566.4L410.3 564L408.1 564.4L408.9 562L406.7 562.1L407.8 559.8L405.6 559.5L407 557.3L404.9 556.8L406.5 554.7L404.4 553.8L406.2 551.9L404.2 550.8L406.2 548.9L404.3 547.5L406.5 545.9L404.8 544.3L407.1 542.8L405.5 541L407.9 539.7L406.5 537.7L409 536.7L407.8 534.4L410.4 533.7L409.4 531.2L412 530.7L411.2 528.2L413.8 528L413.3 525.3L415.8 525.4L415.5 522.7L418 522.9L417.9 520.2L420.3 520.8L420.5 518L422.7 518.8L423.2 516.1L425.2 517.2L425.9 514.6L427.8 515.8L428.7 513.3L430.3 514.8L431.5 512.4L432.9 514.1L434.2 511.9L435.4 513.7L436.9 511.7"/>
<path stroke-width="1.4" d="M437.5 513.4A30.3 20.8 -60 1 1 409 562.7"/>
<path fill="#fff" fill-rule="evenodd" stroke-width="1.95" d="M517.1 421.3A32.2 22.1 -60 1 1 484.9 477.1A32.2 22.1 -60 1 1 517.1 421.3ZM510.8 432.3A19.5 14.6 -60 1 1 491.2 466.1A19.5 14.6 -60 1 1 510.8 432.3Z"/>
<path stroke-width="1.25" stroke-linejoin="miter" d="M489 464L489.9 461L487 461.2L488.6 458.3L485.8 457.7L488 455.2L485.3 453.9L488 451.7L485.7 449.7L488.8 448.2L486.9 445.6L490.2 444.6L488.9 441.6L492.2 441.3L491.5 438L494.6 438.5L494.6 435L497.4 436.2L498.1 432.8L500.4 434.6L501.7 431.5L503.4 433.8L505.3 431.1"/>
<path fill="#fff" fill-rule="evenodd" stroke-width="1.95" d="M540.4 434.5A32.2 22.1 -60 1 1 508.2 490.3A32.2 22.1 -60 1 1 540.4 434.5ZM534 445.5A19.5 14.6 -60 1 1 514.5 479.3A19.5 14.6 -60 1 1 534 445.5Z"/>
<path stroke-width="1.25" stroke-linejoin="miter" d="M512.3 477.2L513.2 474.2L510.3 474.4L511.9 471.5L509.1 470.9L511.3 468.4L508.6 467.1L511.3 464.9L509 462.9L512.1 461.4L510.2 458.8L513.5 457.8L512.2 454.8L515.5 454.5L514.8 451.2L517.9 451.7L517.9 448.2L520.7 449.4L521.4 446L523.7 447.8L525 444.7L526.7 447L528.6 444.3"/>
<path fill="#fff" fill-rule="evenodd" stroke-width="1.95" d="M562.4 446.3A32.2 22.1 -60 1 1 530.2 502.1A32.2 22.1 -60 1 1 562.4 446.3ZM556 457.3A19.5 14.6 -60 1 1 536.5 491.1A19.5 14.6 -60 1 1 556 457.3Z"/>
<path stroke-width="1.25" stroke-linejoin="miter" d="M534.3 489L535.2 486L532.3 486.2L533.9 483.3L531.1 482.7L533.3 480.2L530.6 478.9L533.3 476.7L531 474.7L534.1 473.2L532.2 470.6L535.5 469.6L534.2 466.6L537.5 466.3L536.8 463L539.9 463.5L539.9 460L542.7 461.2L543.4 457.8L545.7 459.6L547 456.5L548.7 458.8L550.6 456.1"/>
<path fill="#fff" fill-rule="evenodd" stroke-width="1.95" d="M583.9 458.5A32.2 22.1 -60 1 1 551.7 514.3A32.2 22.1 -60 1 1 583.9 458.5ZM577.5 469.5A19.5 14.6 -60 1 1 558 503.3A19.5 14.6 -60 1 1 577.5 469.5Z"/>
<path stroke-width="1.25" stroke-linejoin="miter" d="M555.8 501.2L556.7 498.2L553.8 498.4L555.4 495.5L552.6 494.9L554.8 492.4L552.1 491.1L554.8 488.9L552.5 486.9L555.6 485.4L553.7 482.8L557 481.8L555.7 478.8L559 478.5L558.3 475.2L561.4 475.7L561.4 472.2L564.2 473.4L564.9 470L567.2 471.8L568.5 468.7L570.2 471L572.1 468.3"/>
<path fill="#fff" fill-rule="evenodd" stroke-width="1.95" d="M605.2 470.2A32.2 22.1 -60 1 1 573 526A32.2 22.1 -60 1 1 605.2 470.2ZM598.9 481.2A19.5 14.6 -60 1 1 579.4 515A19.5 14.6 -60 1 1 598.9 481.2Z"/>
<path stroke-width="1.25" stroke-linejoin="miter" d="M577.1 512.9L578 509.9L575.1 510.1L576.7 507.2L573.9 506.6L576.1 504.1L573.4 502.8L576.1 500.6L573.8 498.6L576.9 497.1L575 494.5L578.3 493.5L577 490.5L580.3 490.2L579.6 486.9L582.7 487.4L582.7 483.9L585.5 485.1L586.2 481.7L588.5 483.5L589.8 480.4L591.5 482.7L593.4 480"/>
<path fill="#fff" fill-rule="evenodd" stroke-width="1.95" d="M624.8 481.8A32.2 22.1 -60 1 1 592.6 537.6A32.2 22.1 -60 1 1 624.8 481.8ZM618.5 492.8A19.5 14.6 -60 1 1 599 526.6A19.5 14.6 -60 1 1 618.5 492.8Z"/>
<path stroke-width="1.25" stroke-linejoin="miter" d="M596.7 524.5L597.6 521.5L594.7 521.7L596.3 518.8L593.5 518.2L595.7 515.7L593 514.4L595.7 512.2L593.4 510.2L596.5 508.7L594.6 506.1L597.9 505.1L596.6 502.1L599.9 501.8L599.2 498.5L602.3 499L602.3 495.5L605.1 496.7L605.8 493.3L608.1 495.1L609.4 492L611.1 494.3L613 491.6"/>
<path stroke-width="1.25" stroke-dasharray="8 4" d="M112 483.8L95.8 473.8L170.3 454.1L220.3 482.8M331 544.8L409.5 587.8L473.2 569.1"/>
<path stroke-width="1.2" d="M468 563L474 568.8"/>
<!-- labels -->
<text transform="rotate(-0.5 569.9 197.4)" x="569.9" y="197.4" font-size="16.2" textLength="48.6" lengthAdjust="spacingAndGlyphs">30500</text>
<text transform="rotate(-0.5 354.7 409.2)" x="354.7" y="409.2" font-size="16" textLength="63.5" lengthAdjust="spacingAndGlyphs">04352A</text>
<text transform="rotate(-0.5 361.1 616.9)" x="361.1" y="616.9" font-size="16" textLength="63.8" lengthAdjust="spacingAndGlyphs">04351A</text>
<text transform="rotate(-0.5 656.2 1086.9)" x="656.2" y="1086.9" font-size="15.2" textLength="21.3" lengthAdjust="spacingAndGlyphs">MC</text>
<text transform="rotate(-0.5 688.6 1086.7)" x="688.6" y="1086.7" font-size="15.2" textLength="32.9" lengthAdjust="spacingAndGlyphs">L696</text>
</svg>
</body>
</html>
